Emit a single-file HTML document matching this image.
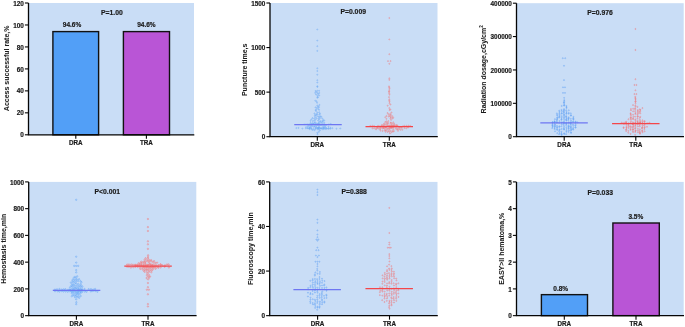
<!DOCTYPE html>
<html><head><meta charset="utf-8"><style>
html,body{margin:0;padding:0;background:#fff;width:685px;height:327px;overflow:hidden}
svg{display:block;font-family:"Liberation Sans", sans-serif}
svg text{filter:grayscale(1)}
</style></head><body>
<svg width="685" height="327" viewBox="0 0 685 327">
<rect width="685" height="327" fill="#fff"/>
<rect x="28.50" y="3.00" width="165.50" height="131.80" fill="#c9ddf6"/>
<rect x="52.90" y="31.60" width="45.70" height="103.20" fill="#529ff7" stroke="#111" stroke-width="1.4"/>
<rect x="123.40" y="31.60" width="46.10" height="103.20" fill="#b955d6" stroke="#111" stroke-width="1.4"/>
<text x="72.00" y="27.18" font-size="6.5" text-anchor="middle" font-weight="bold" fill="#1a1a1a" stroke="#1a1a1a" stroke-width="0.18">94.6%</text>
<text x="146.40" y="27.18" font-size="6.5" text-anchor="middle" font-weight="bold" fill="#1a1a1a" stroke="#1a1a1a" stroke-width="0.18">94.6%</text>
<path d="M28.50 3.00 V134.80 H194.30" fill="none" stroke="#050505" stroke-width="1.3"/>
<line x1="24.90" y1="134.80" x2="28.50" y2="134.80" stroke="#050505" stroke-width="1.1"/>
<text x="23.90" y="137.40" font-size="6.4" text-anchor="end" font-weight="bold" fill="#1a1a1a" stroke="#1a1a1a" stroke-width="0.18">0</text>
<line x1="24.90" y1="112.83" x2="28.50" y2="112.83" stroke="#050505" stroke-width="1.1"/>
<text x="23.90" y="115.43" font-size="6.4" text-anchor="end" font-weight="bold" fill="#1a1a1a" stroke="#1a1a1a" stroke-width="0.18">20</text>
<line x1="24.90" y1="90.87" x2="28.50" y2="90.87" stroke="#050505" stroke-width="1.1"/>
<text x="23.90" y="93.47" font-size="6.4" text-anchor="end" font-weight="bold" fill="#1a1a1a" stroke="#1a1a1a" stroke-width="0.18">40</text>
<line x1="24.90" y1="68.90" x2="28.50" y2="68.90" stroke="#050505" stroke-width="1.1"/>
<text x="23.90" y="71.50" font-size="6.4" text-anchor="end" font-weight="bold" fill="#1a1a1a" stroke="#1a1a1a" stroke-width="0.18">60</text>
<line x1="24.90" y1="46.93" x2="28.50" y2="46.93" stroke="#050505" stroke-width="1.1"/>
<text x="23.90" y="49.53" font-size="6.4" text-anchor="end" font-weight="bold" fill="#1a1a1a" stroke="#1a1a1a" stroke-width="0.18">80</text>
<line x1="24.90" y1="24.97" x2="28.50" y2="24.97" stroke="#050505" stroke-width="1.1"/>
<text x="23.90" y="27.57" font-size="6.4" text-anchor="end" font-weight="bold" fill="#1a1a1a" stroke="#1a1a1a" stroke-width="0.18">100</text>
<line x1="24.90" y1="3.00" x2="28.50" y2="3.00" stroke="#050505" stroke-width="1.1"/>
<text x="23.90" y="5.60" font-size="6.4" text-anchor="end" font-weight="bold" fill="#1a1a1a" stroke="#1a1a1a" stroke-width="0.18">120</text>
<line x1="75.80" y1="134.80" x2="75.80" y2="138.80" stroke="#050505" stroke-width="1.1"/>
<text x="75.80" y="145.20" font-size="6.3" text-anchor="middle" font-weight="bold" fill="#1a1a1a" stroke="#1a1a1a" stroke-width="0.18">DRA</text>
<line x1="146.40" y1="134.80" x2="146.40" y2="138.80" stroke="#050505" stroke-width="1.1"/>
<text x="146.40" y="145.20" font-size="6.3" text-anchor="middle" font-weight="bold" fill="#1a1a1a" stroke="#1a1a1a" stroke-width="0.18">TRA</text>
<text x="9.00" y="68.35" font-size="7.0" text-anchor="middle" font-weight="bold" fill="#1a1a1a" stroke="#1a1a1a" stroke-width="0.05" transform="rotate(-90 9.00 68.35)">Access successful rate,%</text>
<text x="111.90" y="14.90" font-size="6.8" text-anchor="middle" font-weight="bold" fill="#1a1a1a" stroke="#1a1a1a" stroke-width="0.18">P=1.00</text>
<rect x="270.00" y="3.00" width="167.50" height="133.70" fill="#c9ddf6"/>
<circle cx="317.51" cy="134.21" r="0.55" fill="none" stroke="#62a4f4" stroke-width="0.42"/>
<circle cx="317.30" cy="132.76" r="0.55" fill="none" stroke="#62a4f4" stroke-width="0.42"/>
<circle cx="318.92" cy="131.87" r="0.55" fill="none" stroke="#62a4f4" stroke-width="0.42"/>
<circle cx="312.71" cy="130.00" r="0.55" fill="none" stroke="#62a4f4" stroke-width="0.42"/>
<circle cx="314.58" cy="130.18" r="0.55" fill="none" stroke="#62a4f4" stroke-width="0.42"/>
<circle cx="319.87" cy="130.43" r="0.55" fill="none" stroke="#62a4f4" stroke-width="0.42"/>
<circle cx="309.53" cy="129.14" r="0.55" fill="none" stroke="#62a4f4" stroke-width="0.42"/>
<circle cx="311.43" cy="129.15" r="0.55" fill="none" stroke="#62a4f4" stroke-width="0.42"/>
<circle cx="313.34" cy="128.98" r="0.55" fill="none" stroke="#62a4f4" stroke-width="0.42"/>
<circle cx="315.38" cy="129.03" r="0.55" fill="none" stroke="#62a4f4" stroke-width="0.42"/>
<circle cx="317.50" cy="129.25" r="0.55" fill="none" stroke="#62a4f4" stroke-width="0.42"/>
<circle cx="319.01" cy="129.59" r="0.55" fill="none" stroke="#62a4f4" stroke-width="0.42"/>
<circle cx="322.90" cy="129.38" r="0.55" fill="none" stroke="#62a4f4" stroke-width="0.42"/>
<circle cx="325.16" cy="129.14" r="0.55" fill="none" stroke="#62a4f4" stroke-width="0.42"/>
<circle cx="310.53" cy="128.07" r="0.55" fill="none" stroke="#62a4f4" stroke-width="0.42"/>
<circle cx="316.40" cy="127.63" r="0.55" fill="none" stroke="#62a4f4" stroke-width="0.42"/>
<circle cx="318.43" cy="127.93" r="0.55" fill="none" stroke="#62a4f4" stroke-width="0.42"/>
<circle cx="320.18" cy="128.16" r="0.55" fill="none" stroke="#62a4f4" stroke-width="0.42"/>
<circle cx="321.97" cy="127.95" r="0.55" fill="none" stroke="#62a4f4" stroke-width="0.42"/>
<circle cx="324.12" cy="128.02" r="0.55" fill="none" stroke="#62a4f4" stroke-width="0.42"/>
<circle cx="325.84" cy="127.62" r="0.55" fill="none" stroke="#62a4f4" stroke-width="0.42"/>
<circle cx="306.02" cy="127.19" r="0.55" fill="none" stroke="#62a4f4" stroke-width="0.42"/>
<circle cx="307.74" cy="126.54" r="0.55" fill="none" stroke="#62a4f4" stroke-width="0.42"/>
<circle cx="309.99" cy="127.02" r="0.55" fill="none" stroke="#62a4f4" stroke-width="0.42"/>
<circle cx="311.82" cy="126.59" r="0.55" fill="none" stroke="#62a4f4" stroke-width="0.42"/>
<circle cx="313.77" cy="126.86" r="0.55" fill="none" stroke="#62a4f4" stroke-width="0.42"/>
<circle cx="315.26" cy="126.84" r="0.55" fill="none" stroke="#62a4f4" stroke-width="0.42"/>
<circle cx="319.37" cy="127.06" r="0.55" fill="none" stroke="#62a4f4" stroke-width="0.42"/>
<circle cx="323.19" cy="126.81" r="0.55" fill="none" stroke="#62a4f4" stroke-width="0.42"/>
<circle cx="324.86" cy="126.44" r="0.55" fill="none" stroke="#62a4f4" stroke-width="0.42"/>
<circle cx="328.52" cy="126.80" r="0.55" fill="none" stroke="#62a4f4" stroke-width="0.42"/>
<circle cx="308.66" cy="125.48" r="0.55" fill="none" stroke="#62a4f4" stroke-width="0.42"/>
<circle cx="310.72" cy="125.69" r="0.55" fill="none" stroke="#62a4f4" stroke-width="0.42"/>
<circle cx="312.27" cy="125.38" r="0.55" fill="none" stroke="#62a4f4" stroke-width="0.42"/>
<circle cx="314.50" cy="125.89" r="0.55" fill="none" stroke="#62a4f4" stroke-width="0.42"/>
<circle cx="316.53" cy="125.85" r="0.55" fill="none" stroke="#62a4f4" stroke-width="0.42"/>
<circle cx="318.46" cy="125.74" r="0.55" fill="none" stroke="#62a4f4" stroke-width="0.42"/>
<circle cx="319.86" cy="125.21" r="0.55" fill="none" stroke="#62a4f4" stroke-width="0.42"/>
<circle cx="321.90" cy="125.29" r="0.55" fill="none" stroke="#62a4f4" stroke-width="0.42"/>
<circle cx="323.86" cy="125.26" r="0.55" fill="none" stroke="#62a4f4" stroke-width="0.42"/>
<circle cx="325.87" cy="125.33" r="0.55" fill="none" stroke="#62a4f4" stroke-width="0.42"/>
<circle cx="309.83" cy="124.36" r="0.55" fill="none" stroke="#62a4f4" stroke-width="0.42"/>
<circle cx="311.58" cy="124.02" r="0.55" fill="none" stroke="#62a4f4" stroke-width="0.42"/>
<circle cx="313.45" cy="124.15" r="0.55" fill="none" stroke="#62a4f4" stroke-width="0.42"/>
<circle cx="315.64" cy="124.41" r="0.55" fill="none" stroke="#62a4f4" stroke-width="0.42"/>
<circle cx="317.36" cy="124.65" r="0.55" fill="none" stroke="#62a4f4" stroke-width="0.42"/>
<circle cx="318.91" cy="124.12" r="0.55" fill="none" stroke="#62a4f4" stroke-width="0.42"/>
<circle cx="320.90" cy="124.56" r="0.55" fill="none" stroke="#62a4f4" stroke-width="0.42"/>
<circle cx="323.03" cy="124.18" r="0.55" fill="none" stroke="#62a4f4" stroke-width="0.42"/>
<circle cx="310.66" cy="122.98" r="0.55" fill="none" stroke="#62a4f4" stroke-width="0.42"/>
<circle cx="312.49" cy="123.26" r="0.55" fill="none" stroke="#62a4f4" stroke-width="0.42"/>
<circle cx="314.53" cy="122.85" r="0.55" fill="none" stroke="#62a4f4" stroke-width="0.42"/>
<circle cx="316.63" cy="123.50" r="0.55" fill="none" stroke="#62a4f4" stroke-width="0.42"/>
<circle cx="318.47" cy="123.05" r="0.55" fill="none" stroke="#62a4f4" stroke-width="0.42"/>
<circle cx="322.00" cy="123.00" r="0.55" fill="none" stroke="#62a4f4" stroke-width="0.42"/>
<circle cx="324.18" cy="122.83" r="0.55" fill="none" stroke="#62a4f4" stroke-width="0.42"/>
<circle cx="315.20" cy="122.29" r="0.55" fill="none" stroke="#62a4f4" stroke-width="0.42"/>
<circle cx="319.21" cy="121.90" r="0.55" fill="none" stroke="#62a4f4" stroke-width="0.42"/>
<circle cx="320.92" cy="122.14" r="0.55" fill="none" stroke="#62a4f4" stroke-width="0.42"/>
<circle cx="322.82" cy="121.68" r="0.55" fill="none" stroke="#62a4f4" stroke-width="0.42"/>
<circle cx="310.53" cy="120.80" r="0.55" fill="none" stroke="#62a4f4" stroke-width="0.42"/>
<circle cx="312.77" cy="121.12" r="0.55" fill="none" stroke="#62a4f4" stroke-width="0.42"/>
<circle cx="314.27" cy="120.66" r="0.55" fill="none" stroke="#62a4f4" stroke-width="0.42"/>
<circle cx="318.15" cy="120.57" r="0.55" fill="none" stroke="#62a4f4" stroke-width="0.42"/>
<circle cx="320.35" cy="121.15" r="0.55" fill="none" stroke="#62a4f4" stroke-width="0.42"/>
<circle cx="322.28" cy="120.95" r="0.55" fill="none" stroke="#62a4f4" stroke-width="0.42"/>
<circle cx="324.24" cy="120.59" r="0.55" fill="none" stroke="#62a4f4" stroke-width="0.42"/>
<circle cx="311.35" cy="119.34" r="0.55" fill="none" stroke="#62a4f4" stroke-width="0.42"/>
<circle cx="315.56" cy="119.68" r="0.55" fill="none" stroke="#62a4f4" stroke-width="0.42"/>
<circle cx="319.10" cy="119.43" r="0.55" fill="none" stroke="#62a4f4" stroke-width="0.42"/>
<circle cx="323.27" cy="119.91" r="0.55" fill="none" stroke="#62a4f4" stroke-width="0.42"/>
<circle cx="312.58" cy="118.08" r="0.55" fill="none" stroke="#62a4f4" stroke-width="0.42"/>
<circle cx="314.19" cy="118.69" r="0.55" fill="none" stroke="#62a4f4" stroke-width="0.42"/>
<circle cx="316.55" cy="118.27" r="0.55" fill="none" stroke="#62a4f4" stroke-width="0.42"/>
<circle cx="318.42" cy="118.30" r="0.55" fill="none" stroke="#62a4f4" stroke-width="0.42"/>
<circle cx="319.98" cy="118.07" r="0.55" fill="none" stroke="#62a4f4" stroke-width="0.42"/>
<circle cx="322.28" cy="118.45" r="0.55" fill="none" stroke="#62a4f4" stroke-width="0.42"/>
<circle cx="315.27" cy="117.43" r="0.55" fill="none" stroke="#62a4f4" stroke-width="0.42"/>
<circle cx="319.30" cy="116.87" r="0.55" fill="none" stroke="#62a4f4" stroke-width="0.42"/>
<circle cx="321.33" cy="116.83" r="0.55" fill="none" stroke="#62a4f4" stroke-width="0.42"/>
<circle cx="314.74" cy="115.94" r="0.55" fill="none" stroke="#62a4f4" stroke-width="0.42"/>
<circle cx="316.15" cy="115.79" r="0.55" fill="none" stroke="#62a4f4" stroke-width="0.42"/>
<circle cx="318.01" cy="116.33" r="0.55" fill="none" stroke="#62a4f4" stroke-width="0.42"/>
<circle cx="320.43" cy="116.33" r="0.55" fill="none" stroke="#62a4f4" stroke-width="0.42"/>
<circle cx="315.25" cy="114.78" r="0.55" fill="none" stroke="#62a4f4" stroke-width="0.42"/>
<circle cx="317.39" cy="114.43" r="0.55" fill="none" stroke="#62a4f4" stroke-width="0.42"/>
<circle cx="319.49" cy="114.64" r="0.55" fill="none" stroke="#62a4f4" stroke-width="0.42"/>
<circle cx="314.42" cy="113.45" r="0.55" fill="none" stroke="#62a4f4" stroke-width="0.42"/>
<circle cx="316.60" cy="113.98" r="0.55" fill="none" stroke="#62a4f4" stroke-width="0.42"/>
<circle cx="319.98" cy="113.69" r="0.55" fill="none" stroke="#62a4f4" stroke-width="0.42"/>
<circle cx="317.41" cy="112.53" r="0.55" fill="none" stroke="#62a4f4" stroke-width="0.42"/>
<circle cx="319.22" cy="112.25" r="0.55" fill="none" stroke="#62a4f4" stroke-width="0.42"/>
<circle cx="316.10" cy="111.02" r="0.55" fill="none" stroke="#62a4f4" stroke-width="0.42"/>
<circle cx="315.49" cy="110.11" r="0.55" fill="none" stroke="#62a4f4" stroke-width="0.42"/>
<circle cx="319.08" cy="109.86" r="0.55" fill="none" stroke="#62a4f4" stroke-width="0.42"/>
<circle cx="316.56" cy="109.11" r="0.55" fill="none" stroke="#62a4f4" stroke-width="0.42"/>
<circle cx="318.15" cy="108.84" r="0.55" fill="none" stroke="#62a4f4" stroke-width="0.42"/>
<circle cx="315.46" cy="107.40" r="0.55" fill="none" stroke="#62a4f4" stroke-width="0.42"/>
<circle cx="317.15" cy="107.26" r="0.55" fill="none" stroke="#62a4f4" stroke-width="0.42"/>
<circle cx="318.94" cy="107.26" r="0.55" fill="none" stroke="#62a4f4" stroke-width="0.42"/>
<circle cx="318.43" cy="106.39" r="0.55" fill="none" stroke="#62a4f4" stroke-width="0.42"/>
<circle cx="317.30" cy="105.44" r="0.55" fill="none" stroke="#62a4f4" stroke-width="0.42"/>
<circle cx="319.47" cy="104.94" r="0.55" fill="none" stroke="#62a4f4" stroke-width="0.42"/>
<circle cx="317.06" cy="102.81" r="0.55" fill="none" stroke="#62a4f4" stroke-width="0.42"/>
<circle cx="316.59" cy="101.31" r="0.55" fill="none" stroke="#62a4f4" stroke-width="0.42"/>
<circle cx="315.29" cy="100.72" r="0.55" fill="none" stroke="#62a4f4" stroke-width="0.42"/>
<circle cx="317.26" cy="97.73" r="0.55" fill="none" stroke="#62a4f4" stroke-width="0.42"/>
<circle cx="317.99" cy="97.17" r="0.55" fill="none" stroke="#62a4f4" stroke-width="0.42"/>
<circle cx="317.32" cy="95.88" r="0.55" fill="none" stroke="#62a4f4" stroke-width="0.42"/>
<circle cx="319.14" cy="95.47" r="0.55" fill="none" stroke="#62a4f4" stroke-width="0.42"/>
<circle cx="316.06" cy="94.52" r="0.55" fill="none" stroke="#62a4f4" stroke-width="0.42"/>
<circle cx="318.29" cy="94.05" r="0.55" fill="none" stroke="#62a4f4" stroke-width="0.42"/>
<circle cx="315.18" cy="92.90" r="0.55" fill="none" stroke="#62a4f4" stroke-width="0.42"/>
<circle cx="317.50" cy="93.12" r="0.55" fill="none" stroke="#62a4f4" stroke-width="0.42"/>
<circle cx="319.27" cy="92.99" r="0.55" fill="none" stroke="#62a4f4" stroke-width="0.42"/>
<circle cx="316.37" cy="92.00" r="0.55" fill="none" stroke="#62a4f4" stroke-width="0.42"/>
<circle cx="315.51" cy="90.99" r="0.55" fill="none" stroke="#62a4f4" stroke-width="0.42"/>
<circle cx="317.30" cy="90.78" r="0.55" fill="none" stroke="#62a4f4" stroke-width="0.42"/>
<circle cx="319.15" cy="90.85" r="0.55" fill="none" stroke="#62a4f4" stroke-width="0.42"/>
<circle cx="317.39" cy="86.84" r="0.55" fill="none" stroke="#62a4f4" stroke-width="0.42"/>
<circle cx="317.31" cy="86.30" r="0.55" fill="none" stroke="#62a4f4" stroke-width="0.42"/>
<circle cx="304.16" cy="124.38" r="0.55" fill="none" stroke="#62a4f4" stroke-width="0.42"/>
<circle cx="306.02" cy="124.35" r="0.55" fill="none" stroke="#62a4f4" stroke-width="0.42"/>
<circle cx="307.92" cy="124.24" r="0.55" fill="none" stroke="#62a4f4" stroke-width="0.42"/>
<circle cx="309.91" cy="124.40" r="0.55" fill="none" stroke="#62a4f4" stroke-width="0.42"/>
<circle cx="313.31" cy="123.75" r="0.55" fill="none" stroke="#62a4f4" stroke-width="0.42"/>
<circle cx="315.44" cy="124.26" r="0.55" fill="none" stroke="#62a4f4" stroke-width="0.42"/>
<circle cx="317.41" cy="124.22" r="0.55" fill="none" stroke="#62a4f4" stroke-width="0.42"/>
<circle cx="319.21" cy="123.66" r="0.55" fill="none" stroke="#62a4f4" stroke-width="0.42"/>
<circle cx="320.82" cy="124.48" r="0.55" fill="none" stroke="#62a4f4" stroke-width="0.42"/>
<circle cx="324.76" cy="124.41" r="0.55" fill="none" stroke="#62a4f4" stroke-width="0.42"/>
<circle cx="328.87" cy="124.34" r="0.55" fill="none" stroke="#62a4f4" stroke-width="0.42"/>
<circle cx="330.72" cy="123.95" r="0.55" fill="none" stroke="#62a4f4" stroke-width="0.42"/>
<circle cx="307.98" cy="128.23" r="0.55" fill="none" stroke="#62a4f4" stroke-width="0.42"/>
<circle cx="309.60" cy="127.93" r="0.55" fill="none" stroke="#62a4f4" stroke-width="0.42"/>
<circle cx="315.46" cy="128.21" r="0.55" fill="none" stroke="#62a4f4" stroke-width="0.42"/>
<circle cx="317.18" cy="128.05" r="0.55" fill="none" stroke="#62a4f4" stroke-width="0.42"/>
<circle cx="318.90" cy="127.99" r="0.55" fill="none" stroke="#62a4f4" stroke-width="0.42"/>
<circle cx="320.81" cy="128.43" r="0.55" fill="none" stroke="#62a4f4" stroke-width="0.42"/>
<circle cx="323.20" cy="128.01" r="0.55" fill="none" stroke="#62a4f4" stroke-width="0.42"/>
<circle cx="324.93" cy="128.07" r="0.55" fill="none" stroke="#62a4f4" stroke-width="0.42"/>
<circle cx="326.65" cy="128.48" r="0.55" fill="none" stroke="#62a4f4" stroke-width="0.42"/>
<circle cx="328.89" cy="128.77" r="0.55" fill="none" stroke="#62a4f4" stroke-width="0.42"/>
<circle cx="330.59" cy="128.66" r="0.55" fill="none" stroke="#62a4f4" stroke-width="0.42"/>
<circle cx="296.33" cy="128.08" r="0.55" fill="none" stroke="#62a4f4" stroke-width="0.42"/>
<circle cx="298.48" cy="127.92" r="0.55" fill="none" stroke="#62a4f4" stroke-width="0.42"/>
<circle cx="302.38" cy="128.56" r="0.55" fill="none" stroke="#62a4f4" stroke-width="0.42"/>
<circle cx="305.90" cy="128.37" r="0.55" fill="none" stroke="#62a4f4" stroke-width="0.42"/>
<circle cx="307.80" cy="128.16" r="0.55" fill="none" stroke="#62a4f4" stroke-width="0.42"/>
<circle cx="309.40" cy="128.24" r="0.55" fill="none" stroke="#62a4f4" stroke-width="0.42"/>
<circle cx="311.48" cy="128.20" r="0.55" fill="none" stroke="#62a4f4" stroke-width="0.42"/>
<circle cx="317.39" cy="128.18" r="0.55" fill="none" stroke="#62a4f4" stroke-width="0.42"/>
<circle cx="318.90" cy="128.08" r="0.55" fill="none" stroke="#62a4f4" stroke-width="0.42"/>
<circle cx="321.33" cy="128.63" r="0.55" fill="none" stroke="#62a4f4" stroke-width="0.42"/>
<circle cx="323.29" cy="128.26" r="0.55" fill="none" stroke="#62a4f4" stroke-width="0.42"/>
<circle cx="326.95" cy="128.79" r="0.55" fill="none" stroke="#62a4f4" stroke-width="0.42"/>
<circle cx="328.50" cy="128.42" r="0.55" fill="none" stroke="#62a4f4" stroke-width="0.42"/>
<circle cx="330.52" cy="127.80" r="0.55" fill="none" stroke="#62a4f4" stroke-width="0.42"/>
<circle cx="332.46" cy="128.21" r="0.55" fill="none" stroke="#62a4f4" stroke-width="0.42"/>
<circle cx="336.44" cy="128.70" r="0.55" fill="none" stroke="#62a4f4" stroke-width="0.42"/>
<circle cx="340.25" cy="128.44" r="0.55" fill="none" stroke="#62a4f4" stroke-width="0.42"/>
<circle cx="317.30" cy="29.50" r="0.55" fill="none" stroke="#62a4f4" stroke-width="0.42"/>
<circle cx="317.30" cy="40.60" r="0.55" fill="none" stroke="#62a4f4" stroke-width="0.42"/>
<circle cx="317.30" cy="46.20" r="0.55" fill="none" stroke="#62a4f4" stroke-width="0.42"/>
<circle cx="317.30" cy="50.90" r="0.55" fill="none" stroke="#62a4f4" stroke-width="0.42"/>
<circle cx="317.30" cy="68.30" r="0.55" fill="none" stroke="#62a4f4" stroke-width="0.42"/>
<circle cx="317.30" cy="71.00" r="0.55" fill="none" stroke="#62a4f4" stroke-width="0.42"/>
<circle cx="317.30" cy="74.70" r="0.55" fill="none" stroke="#62a4f4" stroke-width="0.42"/>
<circle cx="317.30" cy="80.20" r="0.55" fill="none" stroke="#62a4f4" stroke-width="0.42"/>
<circle cx="317.30" cy="82.60" r="0.55" fill="none" stroke="#62a4f4" stroke-width="0.42"/>
<circle cx="390.00" cy="133.37" r="0.55" fill="none" stroke="#f47272" stroke-width="0.42"/>
<circle cx="385.60" cy="131.75" r="0.55" fill="none" stroke="#f47272" stroke-width="0.42"/>
<circle cx="387.46" cy="131.96" r="0.55" fill="none" stroke="#f47272" stroke-width="0.42"/>
<circle cx="389.26" cy="131.81" r="0.55" fill="none" stroke="#f47272" stroke-width="0.42"/>
<circle cx="391.50" cy="132.26" r="0.55" fill="none" stroke="#f47272" stroke-width="0.42"/>
<circle cx="393.07" cy="131.71" r="0.55" fill="none" stroke="#f47272" stroke-width="0.42"/>
<circle cx="380.47" cy="130.67" r="0.55" fill="none" stroke="#f47272" stroke-width="0.42"/>
<circle cx="382.58" cy="131.01" r="0.55" fill="none" stroke="#f47272" stroke-width="0.42"/>
<circle cx="384.59" cy="130.49" r="0.55" fill="none" stroke="#f47272" stroke-width="0.42"/>
<circle cx="386.35" cy="130.41" r="0.55" fill="none" stroke="#f47272" stroke-width="0.42"/>
<circle cx="388.65" cy="130.84" r="0.55" fill="none" stroke="#f47272" stroke-width="0.42"/>
<circle cx="390.49" cy="130.94" r="0.55" fill="none" stroke="#f47272" stroke-width="0.42"/>
<circle cx="392.39" cy="130.91" r="0.55" fill="none" stroke="#f47272" stroke-width="0.42"/>
<circle cx="393.96" cy="131.08" r="0.55" fill="none" stroke="#f47272" stroke-width="0.42"/>
<circle cx="398.00" cy="130.87" r="0.55" fill="none" stroke="#f47272" stroke-width="0.42"/>
<circle cx="376.02" cy="129.49" r="0.55" fill="none" stroke="#f47272" stroke-width="0.42"/>
<circle cx="380.00" cy="129.38" r="0.55" fill="none" stroke="#f47272" stroke-width="0.42"/>
<circle cx="385.54" cy="129.84" r="0.55" fill="none" stroke="#f47272" stroke-width="0.42"/>
<circle cx="387.39" cy="129.28" r="0.55" fill="none" stroke="#f47272" stroke-width="0.42"/>
<circle cx="389.42" cy="129.23" r="0.55" fill="none" stroke="#f47272" stroke-width="0.42"/>
<circle cx="393.35" cy="129.35" r="0.55" fill="none" stroke="#f47272" stroke-width="0.42"/>
<circle cx="396.90" cy="129.51" r="0.55" fill="none" stroke="#f47272" stroke-width="0.42"/>
<circle cx="398.85" cy="129.35" r="0.55" fill="none" stroke="#f47272" stroke-width="0.42"/>
<circle cx="400.71" cy="129.85" r="0.55" fill="none" stroke="#f47272" stroke-width="0.42"/>
<circle cx="402.35" cy="129.76" r="0.55" fill="none" stroke="#f47272" stroke-width="0.42"/>
<circle cx="377.19" cy="128.05" r="0.55" fill="none" stroke="#f47272" stroke-width="0.42"/>
<circle cx="378.59" cy="128.42" r="0.55" fill="none" stroke="#f47272" stroke-width="0.42"/>
<circle cx="380.59" cy="128.60" r="0.55" fill="none" stroke="#f47272" stroke-width="0.42"/>
<circle cx="382.66" cy="128.58" r="0.55" fill="none" stroke="#f47272" stroke-width="0.42"/>
<circle cx="384.38" cy="128.60" r="0.55" fill="none" stroke="#f47272" stroke-width="0.42"/>
<circle cx="386.58" cy="127.93" r="0.55" fill="none" stroke="#f47272" stroke-width="0.42"/>
<circle cx="388.15" cy="128.44" r="0.55" fill="none" stroke="#f47272" stroke-width="0.42"/>
<circle cx="390.52" cy="127.92" r="0.55" fill="none" stroke="#f47272" stroke-width="0.42"/>
<circle cx="391.86" cy="128.10" r="0.55" fill="none" stroke="#f47272" stroke-width="0.42"/>
<circle cx="395.76" cy="128.45" r="0.55" fill="none" stroke="#f47272" stroke-width="0.42"/>
<circle cx="397.58" cy="128.69" r="0.55" fill="none" stroke="#f47272" stroke-width="0.42"/>
<circle cx="399.47" cy="128.18" r="0.55" fill="none" stroke="#f47272" stroke-width="0.42"/>
<circle cx="401.80" cy="127.99" r="0.55" fill="none" stroke="#f47272" stroke-width="0.42"/>
<circle cx="377.62" cy="127.06" r="0.55" fill="none" stroke="#f47272" stroke-width="0.42"/>
<circle cx="379.94" cy="127.42" r="0.55" fill="none" stroke="#f47272" stroke-width="0.42"/>
<circle cx="381.92" cy="127.26" r="0.55" fill="none" stroke="#f47272" stroke-width="0.42"/>
<circle cx="383.44" cy="127.23" r="0.55" fill="none" stroke="#f47272" stroke-width="0.42"/>
<circle cx="385.26" cy="127.06" r="0.55" fill="none" stroke="#f47272" stroke-width="0.42"/>
<circle cx="389.35" cy="127.01" r="0.55" fill="none" stroke="#f47272" stroke-width="0.42"/>
<circle cx="390.99" cy="127.47" r="0.55" fill="none" stroke="#f47272" stroke-width="0.42"/>
<circle cx="393.16" cy="127.04" r="0.55" fill="none" stroke="#f47272" stroke-width="0.42"/>
<circle cx="395.03" cy="126.81" r="0.55" fill="none" stroke="#f47272" stroke-width="0.42"/>
<circle cx="396.62" cy="126.83" r="0.55" fill="none" stroke="#f47272" stroke-width="0.42"/>
<circle cx="398.88" cy="127.11" r="0.55" fill="none" stroke="#f47272" stroke-width="0.42"/>
<circle cx="384.52" cy="125.70" r="0.55" fill="none" stroke="#f47272" stroke-width="0.42"/>
<circle cx="386.52" cy="126.14" r="0.55" fill="none" stroke="#f47272" stroke-width="0.42"/>
<circle cx="388.20" cy="125.84" r="0.55" fill="none" stroke="#f47272" stroke-width="0.42"/>
<circle cx="389.95" cy="125.53" r="0.55" fill="none" stroke="#f47272" stroke-width="0.42"/>
<circle cx="391.92" cy="126.08" r="0.55" fill="none" stroke="#f47272" stroke-width="0.42"/>
<circle cx="393.81" cy="125.65" r="0.55" fill="none" stroke="#f47272" stroke-width="0.42"/>
<circle cx="395.78" cy="125.92" r="0.55" fill="none" stroke="#f47272" stroke-width="0.42"/>
<circle cx="397.74" cy="126.01" r="0.55" fill="none" stroke="#f47272" stroke-width="0.42"/>
<circle cx="381.94" cy="125.07" r="0.55" fill="none" stroke="#f47272" stroke-width="0.42"/>
<circle cx="383.56" cy="124.71" r="0.55" fill="none" stroke="#f47272" stroke-width="0.42"/>
<circle cx="385.23" cy="124.63" r="0.55" fill="none" stroke="#f47272" stroke-width="0.42"/>
<circle cx="387.21" cy="124.38" r="0.55" fill="none" stroke="#f47272" stroke-width="0.42"/>
<circle cx="391.21" cy="125.04" r="0.55" fill="none" stroke="#f47272" stroke-width="0.42"/>
<circle cx="392.97" cy="125.09" r="0.55" fill="none" stroke="#f47272" stroke-width="0.42"/>
<circle cx="394.71" cy="124.85" r="0.55" fill="none" stroke="#f47272" stroke-width="0.42"/>
<circle cx="396.78" cy="124.97" r="0.55" fill="none" stroke="#f47272" stroke-width="0.42"/>
<circle cx="384.26" cy="123.46" r="0.55" fill="none" stroke="#f47272" stroke-width="0.42"/>
<circle cx="386.44" cy="123.27" r="0.55" fill="none" stroke="#f47272" stroke-width="0.42"/>
<circle cx="388.09" cy="123.33" r="0.55" fill="none" stroke="#f47272" stroke-width="0.42"/>
<circle cx="390.51" cy="123.16" r="0.55" fill="none" stroke="#f47272" stroke-width="0.42"/>
<circle cx="391.97" cy="123.56" r="0.55" fill="none" stroke="#f47272" stroke-width="0.42"/>
<circle cx="394.03" cy="123.70" r="0.55" fill="none" stroke="#f47272" stroke-width="0.42"/>
<circle cx="385.27" cy="122.00" r="0.55" fill="none" stroke="#f47272" stroke-width="0.42"/>
<circle cx="387.61" cy="122.41" r="0.55" fill="none" stroke="#f47272" stroke-width="0.42"/>
<circle cx="390.91" cy="122.43" r="0.55" fill="none" stroke="#f47272" stroke-width="0.42"/>
<circle cx="393.23" cy="122.30" r="0.55" fill="none" stroke="#f47272" stroke-width="0.42"/>
<circle cx="386.42" cy="121.34" r="0.55" fill="none" stroke="#f47272" stroke-width="0.42"/>
<circle cx="388.37" cy="121.08" r="0.55" fill="none" stroke="#f47272" stroke-width="0.42"/>
<circle cx="391.04" cy="119.89" r="0.55" fill="none" stroke="#f47272" stroke-width="0.42"/>
<circle cx="386.41" cy="118.84" r="0.55" fill="none" stroke="#f47272" stroke-width="0.42"/>
<circle cx="390.44" cy="118.38" r="0.55" fill="none" stroke="#f47272" stroke-width="0.42"/>
<circle cx="392.45" cy="118.42" r="0.55" fill="none" stroke="#f47272" stroke-width="0.42"/>
<circle cx="385.24" cy="117.17" r="0.55" fill="none" stroke="#f47272" stroke-width="0.42"/>
<circle cx="390.98" cy="117.34" r="0.55" fill="none" stroke="#f47272" stroke-width="0.42"/>
<circle cx="393.20" cy="117.64" r="0.55" fill="none" stroke="#f47272" stroke-width="0.42"/>
<circle cx="386.46" cy="115.99" r="0.55" fill="none" stroke="#f47272" stroke-width="0.42"/>
<circle cx="388.62" cy="116.50" r="0.55" fill="none" stroke="#f47272" stroke-width="0.42"/>
<circle cx="390.26" cy="116.47" r="0.55" fill="none" stroke="#f47272" stroke-width="0.42"/>
<circle cx="392.39" cy="116.27" r="0.55" fill="none" stroke="#f47272" stroke-width="0.42"/>
<circle cx="389.60" cy="115.33" r="0.55" fill="none" stroke="#f47272" stroke-width="0.42"/>
<circle cx="390.99" cy="115.05" r="0.55" fill="none" stroke="#f47272" stroke-width="0.42"/>
<circle cx="388.41" cy="114.21" r="0.55" fill="none" stroke="#f47272" stroke-width="0.42"/>
<circle cx="390.26" cy="113.89" r="0.55" fill="none" stroke="#f47272" stroke-width="0.42"/>
<circle cx="387.53" cy="113.05" r="0.55" fill="none" stroke="#f47272" stroke-width="0.42"/>
<circle cx="391.48" cy="112.56" r="0.55" fill="none" stroke="#f47272" stroke-width="0.42"/>
<circle cx="389.51" cy="110.08" r="0.55" fill="none" stroke="#f47272" stroke-width="0.42"/>
<circle cx="390.35" cy="109.48" r="0.55" fill="none" stroke="#f47272" stroke-width="0.42"/>
<circle cx="389.28" cy="108.07" r="0.55" fill="none" stroke="#f47272" stroke-width="0.42"/>
<circle cx="387.67" cy="105.68" r="0.55" fill="none" stroke="#f47272" stroke-width="0.42"/>
<circle cx="390.44" cy="104.51" r="0.55" fill="none" stroke="#f47272" stroke-width="0.42"/>
<circle cx="389.45" cy="103.17" r="0.55" fill="none" stroke="#f47272" stroke-width="0.42"/>
<circle cx="389.48" cy="101.61" r="0.55" fill="none" stroke="#f47272" stroke-width="0.42"/>
<circle cx="389.26" cy="100.50" r="0.55" fill="none" stroke="#f47272" stroke-width="0.42"/>
<circle cx="389.28" cy="99.26" r="0.55" fill="none" stroke="#f47272" stroke-width="0.42"/>
<circle cx="389.00" cy="97.09" r="0.55" fill="none" stroke="#f47272" stroke-width="0.42"/>
<circle cx="389.45" cy="94.69" r="0.55" fill="none" stroke="#f47272" stroke-width="0.42"/>
<circle cx="389.20" cy="93.31" r="0.55" fill="none" stroke="#f47272" stroke-width="0.42"/>
<circle cx="389.02" cy="91.96" r="0.55" fill="none" stroke="#f47272" stroke-width="0.42"/>
<circle cx="389.10" cy="91.30" r="0.55" fill="none" stroke="#f47272" stroke-width="0.42"/>
<circle cx="389.24" cy="90.04" r="0.55" fill="none" stroke="#f47272" stroke-width="0.42"/>
<circle cx="389.52" cy="88.41" r="0.55" fill="none" stroke="#f47272" stroke-width="0.42"/>
<circle cx="389.23" cy="87.47" r="0.55" fill="none" stroke="#f47272" stroke-width="0.42"/>
<circle cx="389.01" cy="86.35" r="0.55" fill="none" stroke="#f47272" stroke-width="0.42"/>
<circle cx="370.32" cy="125.88" r="0.55" fill="none" stroke="#f47272" stroke-width="0.42"/>
<circle cx="372.42" cy="125.81" r="0.55" fill="none" stroke="#f47272" stroke-width="0.42"/>
<circle cx="374.09" cy="126.04" r="0.55" fill="none" stroke="#f47272" stroke-width="0.42"/>
<circle cx="378.09" cy="125.80" r="0.55" fill="none" stroke="#f47272" stroke-width="0.42"/>
<circle cx="379.98" cy="126.15" r="0.55" fill="none" stroke="#f47272" stroke-width="0.42"/>
<circle cx="381.90" cy="125.59" r="0.55" fill="none" stroke="#f47272" stroke-width="0.42"/>
<circle cx="383.53" cy="126.03" r="0.55" fill="none" stroke="#f47272" stroke-width="0.42"/>
<circle cx="387.48" cy="125.81" r="0.55" fill="none" stroke="#f47272" stroke-width="0.42"/>
<circle cx="389.27" cy="125.73" r="0.55" fill="none" stroke="#f47272" stroke-width="0.42"/>
<circle cx="391.47" cy="125.61" r="0.55" fill="none" stroke="#f47272" stroke-width="0.42"/>
<circle cx="393.03" cy="125.86" r="0.55" fill="none" stroke="#f47272" stroke-width="0.42"/>
<circle cx="394.75" cy="125.96" r="0.55" fill="none" stroke="#f47272" stroke-width="0.42"/>
<circle cx="396.87" cy="125.79" r="0.55" fill="none" stroke="#f47272" stroke-width="0.42"/>
<circle cx="402.68" cy="126.43" r="0.55" fill="none" stroke="#f47272" stroke-width="0.42"/>
<circle cx="404.26" cy="125.74" r="0.55" fill="none" stroke="#f47272" stroke-width="0.42"/>
<circle cx="406.51" cy="125.87" r="0.55" fill="none" stroke="#f47272" stroke-width="0.42"/>
<circle cx="408.48" cy="125.73" r="0.55" fill="none" stroke="#f47272" stroke-width="0.42"/>
<circle cx="410.28" cy="125.90" r="0.55" fill="none" stroke="#f47272" stroke-width="0.42"/>
<circle cx="372.43" cy="128.33" r="0.55" fill="none" stroke="#f47272" stroke-width="0.42"/>
<circle cx="374.21" cy="128.35" r="0.55" fill="none" stroke="#f47272" stroke-width="0.42"/>
<circle cx="376.15" cy="128.27" r="0.55" fill="none" stroke="#f47272" stroke-width="0.42"/>
<circle cx="383.67" cy="128.07" r="0.55" fill="none" stroke="#f47272" stroke-width="0.42"/>
<circle cx="385.44" cy="127.57" r="0.55" fill="none" stroke="#f47272" stroke-width="0.42"/>
<circle cx="389.29" cy="128.29" r="0.55" fill="none" stroke="#f47272" stroke-width="0.42"/>
<circle cx="391.48" cy="127.53" r="0.55" fill="none" stroke="#f47272" stroke-width="0.42"/>
<circle cx="393.01" cy="127.76" r="0.55" fill="none" stroke="#f47272" stroke-width="0.42"/>
<circle cx="400.73" cy="127.64" r="0.55" fill="none" stroke="#f47272" stroke-width="0.42"/>
<circle cx="404.37" cy="128.04" r="0.55" fill="none" stroke="#f47272" stroke-width="0.42"/>
<circle cx="406.29" cy="128.33" r="0.55" fill="none" stroke="#f47272" stroke-width="0.42"/>
<circle cx="408.09" cy="127.60" r="0.55" fill="none" stroke="#f47272" stroke-width="0.42"/>
<circle cx="389.30" cy="18.00" r="0.55" fill="none" stroke="#f47272" stroke-width="0.42"/>
<circle cx="389.30" cy="39.40" r="0.55" fill="none" stroke="#f47272" stroke-width="0.42"/>
<circle cx="389.30" cy="54.20" r="0.55" fill="none" stroke="#f47272" stroke-width="0.42"/>
<circle cx="389.30" cy="63.80" r="0.55" fill="none" stroke="#f47272" stroke-width="0.42"/>
<circle cx="389.30" cy="78.30" r="0.55" fill="none" stroke="#f47272" stroke-width="0.42"/>
<circle cx="389.30" cy="79.90" r="0.55" fill="none" stroke="#f47272" stroke-width="0.42"/>
<circle cx="388.00" cy="61.10" r="0.55" fill="none" stroke="#f47272" stroke-width="0.42"/>
<circle cx="390.60" cy="61.10" r="0.55" fill="none" stroke="#f47272" stroke-width="0.42"/>
<line x1="294.25" y1="124.50" x2="341.75" y2="124.50" stroke="#6e76f2" stroke-width="1.25"/>
<line x1="365.50" y1="126.50" x2="413.00" y2="126.50" stroke="#f4464a" stroke-width="1.25"/>
<path d="M270.00 3.00 V136.70 H437.80" fill="none" stroke="#050505" stroke-width="1.3"/>
<line x1="266.40" y1="136.70" x2="270.00" y2="136.70" stroke="#050505" stroke-width="1.1"/>
<text x="265.40" y="139.30" font-size="6.4" text-anchor="end" font-weight="bold" fill="#1a1a1a" stroke="#1a1a1a" stroke-width="0.18">0</text>
<line x1="266.40" y1="92.13" x2="270.00" y2="92.13" stroke="#050505" stroke-width="1.1"/>
<text x="265.40" y="94.73" font-size="6.4" text-anchor="end" font-weight="bold" fill="#1a1a1a" stroke="#1a1a1a" stroke-width="0.18">500</text>
<line x1="266.40" y1="47.57" x2="270.00" y2="47.57" stroke="#050505" stroke-width="1.1"/>
<text x="265.40" y="50.17" font-size="6.4" text-anchor="end" font-weight="bold" fill="#1a1a1a" stroke="#1a1a1a" stroke-width="0.18">1000</text>
<line x1="266.40" y1="3.00" x2="270.00" y2="3.00" stroke="#050505" stroke-width="1.1"/>
<text x="265.40" y="5.60" font-size="6.4" text-anchor="end" font-weight="bold" fill="#1a1a1a" stroke="#1a1a1a" stroke-width="0.18">1500</text>
<line x1="317.30" y1="136.70" x2="317.30" y2="140.70" stroke="#050505" stroke-width="1.1"/>
<text x="317.30" y="147.10" font-size="6.3" text-anchor="middle" font-weight="bold" fill="#1a1a1a" stroke="#1a1a1a" stroke-width="0.18">DRA</text>
<line x1="389.30" y1="136.70" x2="389.30" y2="140.70" stroke="#050505" stroke-width="1.1"/>
<text x="389.30" y="147.10" font-size="6.3" text-anchor="middle" font-weight="bold" fill="#1a1a1a" stroke="#1a1a1a" stroke-width="0.18">TRA</text>
<text x="246.70" y="69.80" font-size="7.0" text-anchor="middle" font-weight="bold" fill="#1a1a1a" stroke="#1a1a1a" stroke-width="0.05" transform="rotate(-90 246.70 69.80)">Puncture time,s</text>
<text x="353.20" y="14.10" font-size="6.8" text-anchor="middle" font-weight="bold" fill="#1a1a1a" stroke="#1a1a1a" stroke-width="0.18">P=0.009</text>
<rect x="516.50" y="3.20" width="167.20" height="133.50" fill="#c9ddf6"/>
<circle cx="561.73" cy="134.90" r="0.55" fill="none" stroke="#5a9cf2" stroke-width="0.42"/>
<circle cx="559.11" cy="134.27" r="0.55" fill="none" stroke="#5a9cf2" stroke-width="0.42"/>
<circle cx="561.54" cy="134.40" r="0.55" fill="none" stroke="#5a9cf2" stroke-width="0.42"/>
<circle cx="564.20" cy="133.98" r="0.55" fill="none" stroke="#5a9cf2" stroke-width="0.42"/>
<circle cx="566.09" cy="134.11" r="0.55" fill="none" stroke="#5a9cf2" stroke-width="0.42"/>
<circle cx="557.24" cy="133.14" r="0.55" fill="none" stroke="#5a9cf2" stroke-width="0.42"/>
<circle cx="559.55" cy="133.07" r="0.55" fill="none" stroke="#5a9cf2" stroke-width="0.42"/>
<circle cx="561.42" cy="133.29" r="0.55" fill="none" stroke="#5a9cf2" stroke-width="0.42"/>
<circle cx="564.13" cy="133.30" r="0.55" fill="none" stroke="#5a9cf2" stroke-width="0.42"/>
<circle cx="571.08" cy="132.96" r="0.55" fill="none" stroke="#5a9cf2" stroke-width="0.42"/>
<circle cx="561.48" cy="131.77" r="0.55" fill="none" stroke="#5a9cf2" stroke-width="0.42"/>
<circle cx="566.38" cy="131.84" r="0.55" fill="none" stroke="#5a9cf2" stroke-width="0.42"/>
<circle cx="568.53" cy="131.88" r="0.55" fill="none" stroke="#5a9cf2" stroke-width="0.42"/>
<circle cx="570.95" cy="132.32" r="0.55" fill="none" stroke="#5a9cf2" stroke-width="0.42"/>
<circle cx="555.06" cy="131.29" r="0.55" fill="none" stroke="#5a9cf2" stroke-width="0.42"/>
<circle cx="559.20" cy="131.29" r="0.55" fill="none" stroke="#5a9cf2" stroke-width="0.42"/>
<circle cx="566.43" cy="130.77" r="0.55" fill="none" stroke="#5a9cf2" stroke-width="0.42"/>
<circle cx="570.77" cy="130.65" r="0.55" fill="none" stroke="#5a9cf2" stroke-width="0.42"/>
<circle cx="557.28" cy="129.93" r="0.55" fill="none" stroke="#5a9cf2" stroke-width="0.42"/>
<circle cx="559.28" cy="130.22" r="0.55" fill="none" stroke="#5a9cf2" stroke-width="0.42"/>
<circle cx="564.07" cy="129.64" r="0.55" fill="none" stroke="#5a9cf2" stroke-width="0.42"/>
<circle cx="568.83" cy="130.38" r="0.55" fill="none" stroke="#5a9cf2" stroke-width="0.42"/>
<circle cx="571.20" cy="129.85" r="0.55" fill="none" stroke="#5a9cf2" stroke-width="0.42"/>
<circle cx="573.26" cy="129.63" r="0.55" fill="none" stroke="#5a9cf2" stroke-width="0.42"/>
<circle cx="554.74" cy="129.09" r="0.55" fill="none" stroke="#5a9cf2" stroke-width="0.42"/>
<circle cx="556.83" cy="129.29" r="0.55" fill="none" stroke="#5a9cf2" stroke-width="0.42"/>
<circle cx="559.68" cy="129.32" r="0.55" fill="none" stroke="#5a9cf2" stroke-width="0.42"/>
<circle cx="561.68" cy="129.02" r="0.55" fill="none" stroke="#5a9cf2" stroke-width="0.42"/>
<circle cx="564.06" cy="129.05" r="0.55" fill="none" stroke="#5a9cf2" stroke-width="0.42"/>
<circle cx="566.56" cy="129.01" r="0.55" fill="none" stroke="#5a9cf2" stroke-width="0.42"/>
<circle cx="568.73" cy="128.79" r="0.55" fill="none" stroke="#5a9cf2" stroke-width="0.42"/>
<circle cx="571.19" cy="129.02" r="0.55" fill="none" stroke="#5a9cf2" stroke-width="0.42"/>
<circle cx="572.91" cy="128.93" r="0.55" fill="none" stroke="#5a9cf2" stroke-width="0.42"/>
<circle cx="552.21" cy="128.09" r="0.55" fill="none" stroke="#5a9cf2" stroke-width="0.42"/>
<circle cx="554.54" cy="128.10" r="0.55" fill="none" stroke="#5a9cf2" stroke-width="0.42"/>
<circle cx="557.21" cy="127.88" r="0.55" fill="none" stroke="#5a9cf2" stroke-width="0.42"/>
<circle cx="563.74" cy="128.14" r="0.55" fill="none" stroke="#5a9cf2" stroke-width="0.42"/>
<circle cx="568.57" cy="128.07" r="0.55" fill="none" stroke="#5a9cf2" stroke-width="0.42"/>
<circle cx="570.82" cy="127.85" r="0.55" fill="none" stroke="#5a9cf2" stroke-width="0.42"/>
<circle cx="573.26" cy="127.84" r="0.55" fill="none" stroke="#5a9cf2" stroke-width="0.42"/>
<circle cx="575.66" cy="127.62" r="0.55" fill="none" stroke="#5a9cf2" stroke-width="0.42"/>
<circle cx="552.64" cy="126.85" r="0.55" fill="none" stroke="#5a9cf2" stroke-width="0.42"/>
<circle cx="554.98" cy="126.79" r="0.55" fill="none" stroke="#5a9cf2" stroke-width="0.42"/>
<circle cx="557.06" cy="127.16" r="0.55" fill="none" stroke="#5a9cf2" stroke-width="0.42"/>
<circle cx="559.29" cy="126.87" r="0.55" fill="none" stroke="#5a9cf2" stroke-width="0.42"/>
<circle cx="564.21" cy="126.74" r="0.55" fill="none" stroke="#5a9cf2" stroke-width="0.42"/>
<circle cx="566.39" cy="127.31" r="0.55" fill="none" stroke="#5a9cf2" stroke-width="0.42"/>
<circle cx="568.44" cy="126.70" r="0.55" fill="none" stroke="#5a9cf2" stroke-width="0.42"/>
<circle cx="570.71" cy="127.25" r="0.55" fill="none" stroke="#5a9cf2" stroke-width="0.42"/>
<circle cx="575.37" cy="127.25" r="0.55" fill="none" stroke="#5a9cf2" stroke-width="0.42"/>
<circle cx="552.68" cy="125.88" r="0.55" fill="none" stroke="#5a9cf2" stroke-width="0.42"/>
<circle cx="554.68" cy="126.24" r="0.55" fill="none" stroke="#5a9cf2" stroke-width="0.42"/>
<circle cx="557.01" cy="125.93" r="0.55" fill="none" stroke="#5a9cf2" stroke-width="0.42"/>
<circle cx="559.35" cy="126.34" r="0.55" fill="none" stroke="#5a9cf2" stroke-width="0.42"/>
<circle cx="561.40" cy="126.35" r="0.55" fill="none" stroke="#5a9cf2" stroke-width="0.42"/>
<circle cx="568.87" cy="126.34" r="0.55" fill="none" stroke="#5a9cf2" stroke-width="0.42"/>
<circle cx="571.05" cy="126.27" r="0.55" fill="none" stroke="#5a9cf2" stroke-width="0.42"/>
<circle cx="573.21" cy="125.83" r="0.55" fill="none" stroke="#5a9cf2" stroke-width="0.42"/>
<circle cx="575.34" cy="125.65" r="0.55" fill="none" stroke="#5a9cf2" stroke-width="0.42"/>
<circle cx="552.37" cy="125.25" r="0.55" fill="none" stroke="#5a9cf2" stroke-width="0.42"/>
<circle cx="555.04" cy="125.15" r="0.55" fill="none" stroke="#5a9cf2" stroke-width="0.42"/>
<circle cx="563.71" cy="125.20" r="0.55" fill="none" stroke="#5a9cf2" stroke-width="0.42"/>
<circle cx="566.18" cy="125.13" r="0.55" fill="none" stroke="#5a9cf2" stroke-width="0.42"/>
<circle cx="568.55" cy="125.35" r="0.55" fill="none" stroke="#5a9cf2" stroke-width="0.42"/>
<circle cx="570.80" cy="124.80" r="0.55" fill="none" stroke="#5a9cf2" stroke-width="0.42"/>
<circle cx="575.67" cy="124.88" r="0.55" fill="none" stroke="#5a9cf2" stroke-width="0.42"/>
<circle cx="552.52" cy="124.25" r="0.55" fill="none" stroke="#5a9cf2" stroke-width="0.42"/>
<circle cx="554.98" cy="124.34" r="0.55" fill="none" stroke="#5a9cf2" stroke-width="0.42"/>
<circle cx="561.78" cy="124.29" r="0.55" fill="none" stroke="#5a9cf2" stroke-width="0.42"/>
<circle cx="563.86" cy="123.81" r="0.55" fill="none" stroke="#5a9cf2" stroke-width="0.42"/>
<circle cx="566.25" cy="123.98" r="0.55" fill="none" stroke="#5a9cf2" stroke-width="0.42"/>
<circle cx="570.63" cy="123.70" r="0.55" fill="none" stroke="#5a9cf2" stroke-width="0.42"/>
<circle cx="572.94" cy="124.38" r="0.55" fill="none" stroke="#5a9cf2" stroke-width="0.42"/>
<circle cx="552.50" cy="122.85" r="0.55" fill="none" stroke="#5a9cf2" stroke-width="0.42"/>
<circle cx="554.71" cy="123.12" r="0.55" fill="none" stroke="#5a9cf2" stroke-width="0.42"/>
<circle cx="557.02" cy="122.75" r="0.55" fill="none" stroke="#5a9cf2" stroke-width="0.42"/>
<circle cx="559.17" cy="123.04" r="0.55" fill="none" stroke="#5a9cf2" stroke-width="0.42"/>
<circle cx="563.75" cy="122.74" r="0.55" fill="none" stroke="#5a9cf2" stroke-width="0.42"/>
<circle cx="566.36" cy="123.23" r="0.55" fill="none" stroke="#5a9cf2" stroke-width="0.42"/>
<circle cx="568.78" cy="123.10" r="0.55" fill="none" stroke="#5a9cf2" stroke-width="0.42"/>
<circle cx="570.82" cy="123.00" r="0.55" fill="none" stroke="#5a9cf2" stroke-width="0.42"/>
<circle cx="575.62" cy="122.97" r="0.55" fill="none" stroke="#5a9cf2" stroke-width="0.42"/>
<circle cx="552.52" cy="122.16" r="0.55" fill="none" stroke="#5a9cf2" stroke-width="0.42"/>
<circle cx="554.75" cy="121.94" r="0.55" fill="none" stroke="#5a9cf2" stroke-width="0.42"/>
<circle cx="561.94" cy="122.23" r="0.55" fill="none" stroke="#5a9cf2" stroke-width="0.42"/>
<circle cx="563.98" cy="121.70" r="0.55" fill="none" stroke="#5a9cf2" stroke-width="0.42"/>
<circle cx="568.83" cy="122.23" r="0.55" fill="none" stroke="#5a9cf2" stroke-width="0.42"/>
<circle cx="571.04" cy="122.05" r="0.55" fill="none" stroke="#5a9cf2" stroke-width="0.42"/>
<circle cx="573.25" cy="121.60" r="0.55" fill="none" stroke="#5a9cf2" stroke-width="0.42"/>
<circle cx="575.66" cy="121.64" r="0.55" fill="none" stroke="#5a9cf2" stroke-width="0.42"/>
<circle cx="554.56" cy="121.30" r="0.55" fill="none" stroke="#5a9cf2" stroke-width="0.42"/>
<circle cx="556.81" cy="121.27" r="0.55" fill="none" stroke="#5a9cf2" stroke-width="0.42"/>
<circle cx="559.61" cy="121.14" r="0.55" fill="none" stroke="#5a9cf2" stroke-width="0.42"/>
<circle cx="566.48" cy="120.63" r="0.55" fill="none" stroke="#5a9cf2" stroke-width="0.42"/>
<circle cx="571.03" cy="120.69" r="0.55" fill="none" stroke="#5a9cf2" stroke-width="0.42"/>
<circle cx="556.99" cy="120.05" r="0.55" fill="none" stroke="#5a9cf2" stroke-width="0.42"/>
<circle cx="561.51" cy="119.80" r="0.55" fill="none" stroke="#5a9cf2" stroke-width="0.42"/>
<circle cx="564.15" cy="119.91" r="0.55" fill="none" stroke="#5a9cf2" stroke-width="0.42"/>
<circle cx="566.24" cy="119.88" r="0.55" fill="none" stroke="#5a9cf2" stroke-width="0.42"/>
<circle cx="568.35" cy="120.00" r="0.55" fill="none" stroke="#5a9cf2" stroke-width="0.42"/>
<circle cx="573.35" cy="119.73" r="0.55" fill="none" stroke="#5a9cf2" stroke-width="0.42"/>
<circle cx="554.95" cy="119.14" r="0.55" fill="none" stroke="#5a9cf2" stroke-width="0.42"/>
<circle cx="557.09" cy="119.11" r="0.55" fill="none" stroke="#5a9cf2" stroke-width="0.42"/>
<circle cx="561.46" cy="119.20" r="0.55" fill="none" stroke="#5a9cf2" stroke-width="0.42"/>
<circle cx="566.27" cy="119.18" r="0.55" fill="none" stroke="#5a9cf2" stroke-width="0.42"/>
<circle cx="568.46" cy="118.76" r="0.55" fill="none" stroke="#5a9cf2" stroke-width="0.42"/>
<circle cx="570.79" cy="118.79" r="0.55" fill="none" stroke="#5a9cf2" stroke-width="0.42"/>
<circle cx="573.47" cy="118.84" r="0.55" fill="none" stroke="#5a9cf2" stroke-width="0.42"/>
<circle cx="557.31" cy="118.07" r="0.55" fill="none" stroke="#5a9cf2" stroke-width="0.42"/>
<circle cx="559.23" cy="117.62" r="0.55" fill="none" stroke="#5a9cf2" stroke-width="0.42"/>
<circle cx="561.63" cy="117.74" r="0.55" fill="none" stroke="#5a9cf2" stroke-width="0.42"/>
<circle cx="563.89" cy="118.22" r="0.55" fill="none" stroke="#5a9cf2" stroke-width="0.42"/>
<circle cx="566.59" cy="117.98" r="0.55" fill="none" stroke="#5a9cf2" stroke-width="0.42"/>
<circle cx="568.58" cy="118.27" r="0.55" fill="none" stroke="#5a9cf2" stroke-width="0.42"/>
<circle cx="573.19" cy="118.18" r="0.55" fill="none" stroke="#5a9cf2" stroke-width="0.42"/>
<circle cx="557.24" cy="117.37" r="0.55" fill="none" stroke="#5a9cf2" stroke-width="0.42"/>
<circle cx="559.24" cy="116.79" r="0.55" fill="none" stroke="#5a9cf2" stroke-width="0.42"/>
<circle cx="564.28" cy="117.28" r="0.55" fill="none" stroke="#5a9cf2" stroke-width="0.42"/>
<circle cx="566.11" cy="116.81" r="0.55" fill="none" stroke="#5a9cf2" stroke-width="0.42"/>
<circle cx="568.72" cy="117.29" r="0.55" fill="none" stroke="#5a9cf2" stroke-width="0.42"/>
<circle cx="573.42" cy="116.85" r="0.55" fill="none" stroke="#5a9cf2" stroke-width="0.42"/>
<circle cx="557.24" cy="115.67" r="0.55" fill="none" stroke="#5a9cf2" stroke-width="0.42"/>
<circle cx="559.60" cy="115.83" r="0.55" fill="none" stroke="#5a9cf2" stroke-width="0.42"/>
<circle cx="561.75" cy="116.14" r="0.55" fill="none" stroke="#5a9cf2" stroke-width="0.42"/>
<circle cx="563.90" cy="115.95" r="0.55" fill="none" stroke="#5a9cf2" stroke-width="0.42"/>
<circle cx="566.13" cy="116.07" r="0.55" fill="none" stroke="#5a9cf2" stroke-width="0.42"/>
<circle cx="570.93" cy="115.70" r="0.55" fill="none" stroke="#5a9cf2" stroke-width="0.42"/>
<circle cx="557.20" cy="114.69" r="0.55" fill="none" stroke="#5a9cf2" stroke-width="0.42"/>
<circle cx="564.26" cy="114.90" r="0.55" fill="none" stroke="#5a9cf2" stroke-width="0.42"/>
<circle cx="571.01" cy="115.12" r="0.55" fill="none" stroke="#5a9cf2" stroke-width="0.42"/>
<circle cx="559.55" cy="114.37" r="0.55" fill="none" stroke="#5a9cf2" stroke-width="0.42"/>
<circle cx="561.72" cy="113.69" r="0.55" fill="none" stroke="#5a9cf2" stroke-width="0.42"/>
<circle cx="563.91" cy="114.17" r="0.55" fill="none" stroke="#5a9cf2" stroke-width="0.42"/>
<circle cx="566.34" cy="113.75" r="0.55" fill="none" stroke="#5a9cf2" stroke-width="0.42"/>
<circle cx="568.68" cy="113.74" r="0.55" fill="none" stroke="#5a9cf2" stroke-width="0.42"/>
<circle cx="556.87" cy="113.35" r="0.55" fill="none" stroke="#5a9cf2" stroke-width="0.42"/>
<circle cx="559.30" cy="113.18" r="0.55" fill="none" stroke="#5a9cf2" stroke-width="0.42"/>
<circle cx="561.73" cy="113.12" r="0.55" fill="none" stroke="#5a9cf2" stroke-width="0.42"/>
<circle cx="563.89" cy="112.74" r="0.55" fill="none" stroke="#5a9cf2" stroke-width="0.42"/>
<circle cx="566.43" cy="113.20" r="0.55" fill="none" stroke="#5a9cf2" stroke-width="0.42"/>
<circle cx="568.74" cy="112.89" r="0.55" fill="none" stroke="#5a9cf2" stroke-width="0.42"/>
<circle cx="570.83" cy="113.30" r="0.55" fill="none" stroke="#5a9cf2" stroke-width="0.42"/>
<circle cx="559.40" cy="111.80" r="0.55" fill="none" stroke="#5a9cf2" stroke-width="0.42"/>
<circle cx="563.90" cy="111.92" r="0.55" fill="none" stroke="#5a9cf2" stroke-width="0.42"/>
<circle cx="566.46" cy="111.88" r="0.55" fill="none" stroke="#5a9cf2" stroke-width="0.42"/>
<circle cx="559.26" cy="110.68" r="0.55" fill="none" stroke="#5a9cf2" stroke-width="0.42"/>
<circle cx="561.87" cy="111.18" r="0.55" fill="none" stroke="#5a9cf2" stroke-width="0.42"/>
<circle cx="563.81" cy="110.93" r="0.55" fill="none" stroke="#5a9cf2" stroke-width="0.42"/>
<circle cx="561.49" cy="109.92" r="0.55" fill="none" stroke="#5a9cf2" stroke-width="0.42"/>
<circle cx="564.02" cy="110.05" r="0.55" fill="none" stroke="#5a9cf2" stroke-width="0.42"/>
<circle cx="566.15" cy="110.23" r="0.55" fill="none" stroke="#5a9cf2" stroke-width="0.42"/>
<circle cx="568.78" cy="110.31" r="0.55" fill="none" stroke="#5a9cf2" stroke-width="0.42"/>
<circle cx="564.03" cy="109.07" r="0.55" fill="none" stroke="#5a9cf2" stroke-width="0.42"/>
<circle cx="566.52" cy="107.99" r="0.55" fill="none" stroke="#5a9cf2" stroke-width="0.42"/>
<circle cx="566.46" cy="107.13" r="0.55" fill="none" stroke="#5a9cf2" stroke-width="0.42"/>
<circle cx="561.71" cy="105.97" r="0.55" fill="none" stroke="#5a9cf2" stroke-width="0.42"/>
<circle cx="564.02" cy="105.63" r="0.55" fill="none" stroke="#5a9cf2" stroke-width="0.42"/>
<circle cx="566.39" cy="105.96" r="0.55" fill="none" stroke="#5a9cf2" stroke-width="0.42"/>
<circle cx="564.28" cy="105.31" r="0.55" fill="none" stroke="#5a9cf2" stroke-width="0.42"/>
<circle cx="564.18" cy="104.10" r="0.55" fill="none" stroke="#5a9cf2" stroke-width="0.42"/>
<circle cx="563.92" cy="102.79" r="0.55" fill="none" stroke="#5a9cf2" stroke-width="0.42"/>
<circle cx="564.02" cy="102.34" r="0.55" fill="none" stroke="#5a9cf2" stroke-width="0.42"/>
<circle cx="564.22" cy="101.16" r="0.55" fill="none" stroke="#5a9cf2" stroke-width="0.42"/>
<circle cx="564.21" cy="100.08" r="0.55" fill="none" stroke="#5a9cf2" stroke-width="0.42"/>
<circle cx="564.14" cy="97.87" r="0.55" fill="none" stroke="#5a9cf2" stroke-width="0.42"/>
<circle cx="552.65" cy="122.59" r="0.55" fill="none" stroke="#5a9cf2" stroke-width="0.42"/>
<circle cx="554.53" cy="122.18" r="0.55" fill="none" stroke="#5a9cf2" stroke-width="0.42"/>
<circle cx="556.90" cy="122.60" r="0.55" fill="none" stroke="#5a9cf2" stroke-width="0.42"/>
<circle cx="561.65" cy="122.75" r="0.55" fill="none" stroke="#5a9cf2" stroke-width="0.42"/>
<circle cx="563.98" cy="122.86" r="0.55" fill="none" stroke="#5a9cf2" stroke-width="0.42"/>
<circle cx="566.11" cy="123.00" r="0.55" fill="none" stroke="#5a9cf2" stroke-width="0.42"/>
<circle cx="570.82" cy="122.63" r="0.55" fill="none" stroke="#5a9cf2" stroke-width="0.42"/>
<circle cx="573.03" cy="122.10" r="0.55" fill="none" stroke="#5a9cf2" stroke-width="0.42"/>
<circle cx="575.67" cy="122.24" r="0.55" fill="none" stroke="#5a9cf2" stroke-width="0.42"/>
<circle cx="577.62" cy="122.31" r="0.55" fill="none" stroke="#5a9cf2" stroke-width="0.42"/>
<circle cx="562.80" cy="58.20" r="0.55" fill="none" stroke="#5a9cf2" stroke-width="0.42"/>
<circle cx="565.20" cy="58.20" r="0.55" fill="none" stroke="#5a9cf2" stroke-width="0.42"/>
<circle cx="564.00" cy="65.80" r="0.55" fill="none" stroke="#5a9cf2" stroke-width="0.42"/>
<circle cx="564.00" cy="80.10" r="0.55" fill="none" stroke="#5a9cf2" stroke-width="0.42"/>
<circle cx="563.00" cy="87.30" r="0.55" fill="none" stroke="#5a9cf2" stroke-width="0.42"/>
<circle cx="565.00" cy="87.30" r="0.55" fill="none" stroke="#5a9cf2" stroke-width="0.42"/>
<circle cx="563.00" cy="92.90" r="0.55" fill="none" stroke="#5a9cf2" stroke-width="0.42"/>
<circle cx="565.00" cy="92.90" r="0.55" fill="none" stroke="#5a9cf2" stroke-width="0.42"/>
<circle cx="635.16" cy="134.92" r="0.55" fill="none" stroke="#f26c6c" stroke-width="0.42"/>
<circle cx="630.54" cy="133.92" r="0.55" fill="none" stroke="#f26c6c" stroke-width="0.42"/>
<circle cx="640.02" cy="133.82" r="0.55" fill="none" stroke="#f26c6c" stroke-width="0.42"/>
<circle cx="628.26" cy="132.77" r="0.55" fill="none" stroke="#f26c6c" stroke-width="0.42"/>
<circle cx="639.89" cy="133.10" r="0.55" fill="none" stroke="#f26c6c" stroke-width="0.42"/>
<circle cx="633.16" cy="132.14" r="0.55" fill="none" stroke="#f26c6c" stroke-width="0.42"/>
<circle cx="635.21" cy="131.98" r="0.55" fill="none" stroke="#f26c6c" stroke-width="0.42"/>
<circle cx="637.96" cy="132.29" r="0.55" fill="none" stroke="#f26c6c" stroke-width="0.42"/>
<circle cx="639.88" cy="132.33" r="0.55" fill="none" stroke="#f26c6c" stroke-width="0.42"/>
<circle cx="642.53" cy="132.28" r="0.55" fill="none" stroke="#f26c6c" stroke-width="0.42"/>
<circle cx="626.15" cy="131.08" r="0.55" fill="none" stroke="#f26c6c" stroke-width="0.42"/>
<circle cx="628.30" cy="130.84" r="0.55" fill="none" stroke="#f26c6c" stroke-width="0.42"/>
<circle cx="632.83" cy="131.10" r="0.55" fill="none" stroke="#f26c6c" stroke-width="0.42"/>
<circle cx="635.42" cy="130.98" r="0.55" fill="none" stroke="#f26c6c" stroke-width="0.42"/>
<circle cx="638.00" cy="130.76" r="0.55" fill="none" stroke="#f26c6c" stroke-width="0.42"/>
<circle cx="639.82" cy="131.11" r="0.55" fill="none" stroke="#f26c6c" stroke-width="0.42"/>
<circle cx="642.21" cy="131.20" r="0.55" fill="none" stroke="#f26c6c" stroke-width="0.42"/>
<circle cx="644.64" cy="131.32" r="0.55" fill="none" stroke="#f26c6c" stroke-width="0.42"/>
<circle cx="625.94" cy="129.78" r="0.55" fill="none" stroke="#f26c6c" stroke-width="0.42"/>
<circle cx="630.64" cy="129.86" r="0.55" fill="none" stroke="#f26c6c" stroke-width="0.42"/>
<circle cx="633.08" cy="129.63" r="0.55" fill="none" stroke="#f26c6c" stroke-width="0.42"/>
<circle cx="635.64" cy="130.36" r="0.55" fill="none" stroke="#f26c6c" stroke-width="0.42"/>
<circle cx="642.17" cy="130.37" r="0.55" fill="none" stroke="#f26c6c" stroke-width="0.42"/>
<circle cx="626.47" cy="129.10" r="0.55" fill="none" stroke="#f26c6c" stroke-width="0.42"/>
<circle cx="630.61" cy="128.96" r="0.55" fill="none" stroke="#f26c6c" stroke-width="0.42"/>
<circle cx="633.03" cy="129.37" r="0.55" fill="none" stroke="#f26c6c" stroke-width="0.42"/>
<circle cx="635.11" cy="128.64" r="0.55" fill="none" stroke="#f26c6c" stroke-width="0.42"/>
<circle cx="637.87" cy="128.89" r="0.55" fill="none" stroke="#f26c6c" stroke-width="0.42"/>
<circle cx="639.76" cy="129.39" r="0.55" fill="none" stroke="#f26c6c" stroke-width="0.42"/>
<circle cx="642.12" cy="128.65" r="0.55" fill="none" stroke="#f26c6c" stroke-width="0.42"/>
<circle cx="644.40" cy="129.14" r="0.55" fill="none" stroke="#f26c6c" stroke-width="0.42"/>
<circle cx="623.62" cy="127.99" r="0.55" fill="none" stroke="#f26c6c" stroke-width="0.42"/>
<circle cx="626.50" cy="127.70" r="0.55" fill="none" stroke="#f26c6c" stroke-width="0.42"/>
<circle cx="628.66" cy="127.93" r="0.55" fill="none" stroke="#f26c6c" stroke-width="0.42"/>
<circle cx="632.95" cy="127.93" r="0.55" fill="none" stroke="#f26c6c" stroke-width="0.42"/>
<circle cx="635.35" cy="127.80" r="0.55" fill="none" stroke="#f26c6c" stroke-width="0.42"/>
<circle cx="642.02" cy="127.80" r="0.55" fill="none" stroke="#f26c6c" stroke-width="0.42"/>
<circle cx="644.42" cy="127.79" r="0.55" fill="none" stroke="#f26c6c" stroke-width="0.42"/>
<circle cx="623.63" cy="127.34" r="0.55" fill="none" stroke="#f26c6c" stroke-width="0.42"/>
<circle cx="626.49" cy="126.92" r="0.55" fill="none" stroke="#f26c6c" stroke-width="0.42"/>
<circle cx="630.97" cy="127.20" r="0.55" fill="none" stroke="#f26c6c" stroke-width="0.42"/>
<circle cx="632.86" cy="126.77" r="0.55" fill="none" stroke="#f26c6c" stroke-width="0.42"/>
<circle cx="642.39" cy="127.24" r="0.55" fill="none" stroke="#f26c6c" stroke-width="0.42"/>
<circle cx="644.79" cy="127.02" r="0.55" fill="none" stroke="#f26c6c" stroke-width="0.42"/>
<circle cx="647.01" cy="126.81" r="0.55" fill="none" stroke="#f26c6c" stroke-width="0.42"/>
<circle cx="628.78" cy="126.37" r="0.55" fill="none" stroke="#f26c6c" stroke-width="0.42"/>
<circle cx="630.53" cy="126.32" r="0.55" fill="none" stroke="#f26c6c" stroke-width="0.42"/>
<circle cx="633.38" cy="126.13" r="0.55" fill="none" stroke="#f26c6c" stroke-width="0.42"/>
<circle cx="635.20" cy="126.11" r="0.55" fill="none" stroke="#f26c6c" stroke-width="0.42"/>
<circle cx="637.85" cy="126.34" r="0.55" fill="none" stroke="#f26c6c" stroke-width="0.42"/>
<circle cx="639.70" cy="126.34" r="0.55" fill="none" stroke="#f26c6c" stroke-width="0.42"/>
<circle cx="642.53" cy="125.69" r="0.55" fill="none" stroke="#f26c6c" stroke-width="0.42"/>
<circle cx="626.43" cy="124.76" r="0.55" fill="none" stroke="#f26c6c" stroke-width="0.42"/>
<circle cx="628.40" cy="125.31" r="0.55" fill="none" stroke="#f26c6c" stroke-width="0.42"/>
<circle cx="633.12" cy="124.62" r="0.55" fill="none" stroke="#f26c6c" stroke-width="0.42"/>
<circle cx="635.46" cy="124.99" r="0.55" fill="none" stroke="#f26c6c" stroke-width="0.42"/>
<circle cx="639.78" cy="124.89" r="0.55" fill="none" stroke="#f26c6c" stroke-width="0.42"/>
<circle cx="644.31" cy="125.27" r="0.55" fill="none" stroke="#f26c6c" stroke-width="0.42"/>
<circle cx="623.93" cy="123.90" r="0.55" fill="none" stroke="#f26c6c" stroke-width="0.42"/>
<circle cx="628.34" cy="123.99" r="0.55" fill="none" stroke="#f26c6c" stroke-width="0.42"/>
<circle cx="632.87" cy="124.10" r="0.55" fill="none" stroke="#f26c6c" stroke-width="0.42"/>
<circle cx="637.66" cy="124.29" r="0.55" fill="none" stroke="#f26c6c" stroke-width="0.42"/>
<circle cx="642.53" cy="123.76" r="0.55" fill="none" stroke="#f26c6c" stroke-width="0.42"/>
<circle cx="644.80" cy="123.94" r="0.55" fill="none" stroke="#f26c6c" stroke-width="0.42"/>
<circle cx="624.12" cy="122.74" r="0.55" fill="none" stroke="#f26c6c" stroke-width="0.42"/>
<circle cx="626.20" cy="122.87" r="0.55" fill="none" stroke="#f26c6c" stroke-width="0.42"/>
<circle cx="628.74" cy="123.17" r="0.55" fill="none" stroke="#f26c6c" stroke-width="0.42"/>
<circle cx="630.69" cy="123.04" r="0.55" fill="none" stroke="#f26c6c" stroke-width="0.42"/>
<circle cx="633.23" cy="122.99" r="0.55" fill="none" stroke="#f26c6c" stroke-width="0.42"/>
<circle cx="635.25" cy="123.28" r="0.55" fill="none" stroke="#f26c6c" stroke-width="0.42"/>
<circle cx="637.86" cy="123.39" r="0.55" fill="none" stroke="#f26c6c" stroke-width="0.42"/>
<circle cx="640.11" cy="123.09" r="0.55" fill="none" stroke="#f26c6c" stroke-width="0.42"/>
<circle cx="642.55" cy="122.97" r="0.55" fill="none" stroke="#f26c6c" stroke-width="0.42"/>
<circle cx="647.12" cy="123.23" r="0.55" fill="none" stroke="#f26c6c" stroke-width="0.42"/>
<circle cx="626.17" cy="121.71" r="0.55" fill="none" stroke="#f26c6c" stroke-width="0.42"/>
<circle cx="630.90" cy="121.71" r="0.55" fill="none" stroke="#f26c6c" stroke-width="0.42"/>
<circle cx="632.89" cy="122.25" r="0.55" fill="none" stroke="#f26c6c" stroke-width="0.42"/>
<circle cx="635.64" cy="121.90" r="0.55" fill="none" stroke="#f26c6c" stroke-width="0.42"/>
<circle cx="637.61" cy="122.10" r="0.55" fill="none" stroke="#f26c6c" stroke-width="0.42"/>
<circle cx="639.94" cy="122.35" r="0.55" fill="none" stroke="#f26c6c" stroke-width="0.42"/>
<circle cx="642.39" cy="121.86" r="0.55" fill="none" stroke="#f26c6c" stroke-width="0.42"/>
<circle cx="644.31" cy="121.62" r="0.55" fill="none" stroke="#f26c6c" stroke-width="0.42"/>
<circle cx="637.75" cy="121.00" r="0.55" fill="none" stroke="#f26c6c" stroke-width="0.42"/>
<circle cx="640.26" cy="121.21" r="0.55" fill="none" stroke="#f26c6c" stroke-width="0.42"/>
<circle cx="644.69" cy="121.14" r="0.55" fill="none" stroke="#f26c6c" stroke-width="0.42"/>
<circle cx="631.00" cy="119.84" r="0.55" fill="none" stroke="#f26c6c" stroke-width="0.42"/>
<circle cx="635.46" cy="120.32" r="0.55" fill="none" stroke="#f26c6c" stroke-width="0.42"/>
<circle cx="639.84" cy="119.86" r="0.55" fill="none" stroke="#f26c6c" stroke-width="0.42"/>
<circle cx="642.60" cy="120.32" r="0.55" fill="none" stroke="#f26c6c" stroke-width="0.42"/>
<circle cx="628.44" cy="119.25" r="0.55" fill="none" stroke="#f26c6c" stroke-width="0.42"/>
<circle cx="630.75" cy="118.61" r="0.55" fill="none" stroke="#f26c6c" stroke-width="0.42"/>
<circle cx="633.12" cy="119.15" r="0.55" fill="none" stroke="#f26c6c" stroke-width="0.42"/>
<circle cx="635.32" cy="119.36" r="0.55" fill="none" stroke="#f26c6c" stroke-width="0.42"/>
<circle cx="637.49" cy="118.65" r="0.55" fill="none" stroke="#f26c6c" stroke-width="0.42"/>
<circle cx="630.69" cy="117.67" r="0.55" fill="none" stroke="#f26c6c" stroke-width="0.42"/>
<circle cx="632.93" cy="118.34" r="0.55" fill="none" stroke="#f26c6c" stroke-width="0.42"/>
<circle cx="639.84" cy="117.84" r="0.55" fill="none" stroke="#f26c6c" stroke-width="0.42"/>
<circle cx="630.97" cy="117.14" r="0.55" fill="none" stroke="#f26c6c" stroke-width="0.42"/>
<circle cx="633.38" cy="116.81" r="0.55" fill="none" stroke="#f26c6c" stroke-width="0.42"/>
<circle cx="635.19" cy="116.68" r="0.55" fill="none" stroke="#f26c6c" stroke-width="0.42"/>
<circle cx="637.59" cy="116.70" r="0.55" fill="none" stroke="#f26c6c" stroke-width="0.42"/>
<circle cx="640.30" cy="116.83" r="0.55" fill="none" stroke="#f26c6c" stroke-width="0.42"/>
<circle cx="637.97" cy="116.30" r="0.55" fill="none" stroke="#f26c6c" stroke-width="0.42"/>
<circle cx="630.92" cy="115.18" r="0.55" fill="none" stroke="#f26c6c" stroke-width="0.42"/>
<circle cx="633.10" cy="114.72" r="0.55" fill="none" stroke="#f26c6c" stroke-width="0.42"/>
<circle cx="637.44" cy="114.73" r="0.55" fill="none" stroke="#f26c6c" stroke-width="0.42"/>
<circle cx="630.73" cy="114.15" r="0.55" fill="none" stroke="#f26c6c" stroke-width="0.42"/>
<circle cx="635.33" cy="113.94" r="0.55" fill="none" stroke="#f26c6c" stroke-width="0.42"/>
<circle cx="637.93" cy="113.62" r="0.55" fill="none" stroke="#f26c6c" stroke-width="0.42"/>
<circle cx="630.59" cy="113.28" r="0.55" fill="none" stroke="#f26c6c" stroke-width="0.42"/>
<circle cx="635.43" cy="112.98" r="0.55" fill="none" stroke="#f26c6c" stroke-width="0.42"/>
<circle cx="640.20" cy="113.40" r="0.55" fill="none" stroke="#f26c6c" stroke-width="0.42"/>
<circle cx="637.91" cy="112.27" r="0.55" fill="none" stroke="#f26c6c" stroke-width="0.42"/>
<circle cx="639.76" cy="112.10" r="0.55" fill="none" stroke="#f26c6c" stroke-width="0.42"/>
<circle cx="633.19" cy="111.32" r="0.55" fill="none" stroke="#f26c6c" stroke-width="0.42"/>
<circle cx="635.12" cy="111.11" r="0.55" fill="none" stroke="#f26c6c" stroke-width="0.42"/>
<circle cx="637.91" cy="111.13" r="0.55" fill="none" stroke="#f26c6c" stroke-width="0.42"/>
<circle cx="640.24" cy="111.10" r="0.55" fill="none" stroke="#f26c6c" stroke-width="0.42"/>
<circle cx="631.00" cy="110.31" r="0.55" fill="none" stroke="#f26c6c" stroke-width="0.42"/>
<circle cx="637.82" cy="110.08" r="0.55" fill="none" stroke="#f26c6c" stroke-width="0.42"/>
<circle cx="640.29" cy="109.88" r="0.55" fill="none" stroke="#f26c6c" stroke-width="0.42"/>
<circle cx="630.93" cy="109.00" r="0.55" fill="none" stroke="#f26c6c" stroke-width="0.42"/>
<circle cx="633.16" cy="108.80" r="0.55" fill="none" stroke="#f26c6c" stroke-width="0.42"/>
<circle cx="635.14" cy="109.23" r="0.55" fill="none" stroke="#f26c6c" stroke-width="0.42"/>
<circle cx="639.77" cy="109.38" r="0.55" fill="none" stroke="#f26c6c" stroke-width="0.42"/>
<circle cx="635.10" cy="108.28" r="0.55" fill="none" stroke="#f26c6c" stroke-width="0.42"/>
<circle cx="635.54" cy="106.63" r="0.55" fill="none" stroke="#f26c6c" stroke-width="0.42"/>
<circle cx="637.49" cy="106.89" r="0.55" fill="none" stroke="#f26c6c" stroke-width="0.42"/>
<circle cx="633.03" cy="105.08" r="0.55" fill="none" stroke="#f26c6c" stroke-width="0.42"/>
<circle cx="635.35" cy="105.38" r="0.55" fill="none" stroke="#f26c6c" stroke-width="0.42"/>
<circle cx="635.51" cy="103.23" r="0.55" fill="none" stroke="#f26c6c" stroke-width="0.42"/>
<circle cx="635.36" cy="101.74" r="0.55" fill="none" stroke="#f26c6c" stroke-width="0.42"/>
<circle cx="635.63" cy="101.35" r="0.55" fill="none" stroke="#f26c6c" stroke-width="0.42"/>
<circle cx="635.55" cy="99.93" r="0.55" fill="none" stroke="#f26c6c" stroke-width="0.42"/>
<circle cx="635.61" cy="98.86" r="0.55" fill="none" stroke="#f26c6c" stroke-width="0.42"/>
<circle cx="635.25" cy="98.01" r="0.55" fill="none" stroke="#f26c6c" stroke-width="0.42"/>
<circle cx="635.26" cy="96.83" r="0.55" fill="none" stroke="#f26c6c" stroke-width="0.42"/>
<circle cx="621.75" cy="122.59" r="0.55" fill="none" stroke="#f26c6c" stroke-width="0.42"/>
<circle cx="625.96" cy="122.71" r="0.55" fill="none" stroke="#f26c6c" stroke-width="0.42"/>
<circle cx="635.17" cy="122.84" r="0.55" fill="none" stroke="#f26c6c" stroke-width="0.42"/>
<circle cx="637.99" cy="122.67" r="0.55" fill="none" stroke="#f26c6c" stroke-width="0.42"/>
<circle cx="640.21" cy="122.61" r="0.55" fill="none" stroke="#f26c6c" stroke-width="0.42"/>
<circle cx="644.64" cy="123.16" r="0.55" fill="none" stroke="#f26c6c" stroke-width="0.42"/>
<circle cx="649.41" cy="122.68" r="0.55" fill="none" stroke="#f26c6c" stroke-width="0.42"/>
<circle cx="635.40" cy="29.00" r="0.55" fill="none" stroke="#f26c6c" stroke-width="0.42"/>
<circle cx="635.40" cy="50.00" r="0.55" fill="none" stroke="#f26c6c" stroke-width="0.42"/>
<circle cx="635.40" cy="79.20" r="0.55" fill="none" stroke="#f26c6c" stroke-width="0.42"/>
<circle cx="634.40" cy="85.00" r="0.55" fill="none" stroke="#f26c6c" stroke-width="0.42"/>
<circle cx="636.40" cy="85.00" r="0.55" fill="none" stroke="#f26c6c" stroke-width="0.42"/>
<circle cx="635.40" cy="90.30" r="0.55" fill="none" stroke="#f26c6c" stroke-width="0.42"/>
<circle cx="634.40" cy="94.10" r="0.55" fill="none" stroke="#f26c6c" stroke-width="0.42"/>
<circle cx="636.40" cy="94.10" r="0.55" fill="none" stroke="#f26c6c" stroke-width="0.42"/>
<circle cx="642.40" cy="108.10" r="0.55" fill="none" stroke="#f26c6c" stroke-width="0.42"/>
<line x1="540.30" y1="122.90" x2="587.80" y2="122.90" stroke="#6e76f2" stroke-width="1.25"/>
<line x1="612.05" y1="123.50" x2="659.55" y2="123.50" stroke="#f4464a" stroke-width="1.25"/>
<path d="M516.50 3.20 V136.70 H684.00" fill="none" stroke="#050505" stroke-width="1.3"/>
<line x1="512.90" y1="136.70" x2="516.50" y2="136.70" stroke="#050505" stroke-width="1.1"/>
<text x="511.90" y="139.30" font-size="6.4" text-anchor="end" font-weight="bold" fill="#1a1a1a" stroke="#1a1a1a" stroke-width="0.18">0</text>
<line x1="512.90" y1="103.32" x2="516.50" y2="103.32" stroke="#050505" stroke-width="1.1"/>
<text x="511.90" y="105.92" font-size="6.4" text-anchor="end" font-weight="bold" fill="#1a1a1a" stroke="#1a1a1a" stroke-width="0.18">100000</text>
<line x1="512.90" y1="69.95" x2="516.50" y2="69.95" stroke="#050505" stroke-width="1.1"/>
<text x="511.90" y="72.55" font-size="6.4" text-anchor="end" font-weight="bold" fill="#1a1a1a" stroke="#1a1a1a" stroke-width="0.18">200000</text>
<line x1="512.90" y1="36.57" x2="516.50" y2="36.57" stroke="#050505" stroke-width="1.1"/>
<text x="511.90" y="39.17" font-size="6.4" text-anchor="end" font-weight="bold" fill="#1a1a1a" stroke="#1a1a1a" stroke-width="0.18">300000</text>
<line x1="512.90" y1="3.20" x2="516.50" y2="3.20" stroke="#050505" stroke-width="1.1"/>
<text x="511.90" y="5.80" font-size="6.4" text-anchor="end" font-weight="bold" fill="#1a1a1a" stroke="#1a1a1a" stroke-width="0.18">400000</text>
<line x1="564.20" y1="136.70" x2="564.20" y2="140.70" stroke="#050505" stroke-width="1.1"/>
<text x="564.20" y="147.10" font-size="6.3" text-anchor="middle" font-weight="bold" fill="#1a1a1a" stroke="#1a1a1a" stroke-width="0.18">DRA</text>
<line x1="635.80" y1="136.70" x2="635.80" y2="140.70" stroke="#050505" stroke-width="1.1"/>
<text x="635.80" y="147.10" font-size="6.3" text-anchor="middle" font-weight="bold" fill="#1a1a1a" stroke="#1a1a1a" stroke-width="0.18">TRA</text>
<text x="486.00" y="69.30" font-size="7.0" text-anchor="middle" font-weight="bold" fill="#1a1a1a" stroke="#1a1a1a" stroke-width="0.05" transform="rotate(-90 486.00 69.30)">Radiation dosage,cGy/cm<tspan dy="-2.6" font-size="4.6">2</tspan></text>
<text x="600.05" y="14.50" font-size="6.8" text-anchor="middle" font-weight="bold" fill="#1a1a1a" stroke="#1a1a1a" stroke-width="0.18">P=0.976</text>
<rect x="28.70" y="181.90" width="167.60" height="133.75" fill="#c9ddf6"/>
<circle cx="76.35" cy="302.24" r="0.7" fill="none" stroke="#62a4f4" stroke-width="0.5"/>
<circle cx="76.18" cy="299.35" r="0.7" fill="none" stroke="#62a4f4" stroke-width="0.5"/>
<circle cx="75.13" cy="297.30" r="0.7" fill="none" stroke="#62a4f4" stroke-width="0.5"/>
<circle cx="77.29" cy="297.11" r="0.7" fill="none" stroke="#62a4f4" stroke-width="0.5"/>
<circle cx="79.22" cy="297.83" r="0.7" fill="none" stroke="#62a4f4" stroke-width="0.5"/>
<circle cx="71.80" cy="296.24" r="0.7" fill="none" stroke="#62a4f4" stroke-width="0.5"/>
<circle cx="74.17" cy="295.70" r="0.7" fill="none" stroke="#62a4f4" stroke-width="0.5"/>
<circle cx="76.42" cy="295.77" r="0.7" fill="none" stroke="#62a4f4" stroke-width="0.5"/>
<circle cx="78.59" cy="296.30" r="0.7" fill="none" stroke="#62a4f4" stroke-width="0.5"/>
<circle cx="80.68" cy="296.03" r="0.7" fill="none" stroke="#62a4f4" stroke-width="0.5"/>
<circle cx="72.87" cy="294.85" r="0.7" fill="none" stroke="#62a4f4" stroke-width="0.5"/>
<circle cx="75.43" cy="294.81" r="0.7" fill="none" stroke="#62a4f4" stroke-width="0.5"/>
<circle cx="77.17" cy="294.23" r="0.7" fill="none" stroke="#62a4f4" stroke-width="0.5"/>
<circle cx="79.09" cy="294.34" r="0.7" fill="none" stroke="#62a4f4" stroke-width="0.5"/>
<circle cx="71.70" cy="293.14" r="0.7" fill="none" stroke="#62a4f4" stroke-width="0.5"/>
<circle cx="73.99" cy="293.25" r="0.7" fill="none" stroke="#62a4f4" stroke-width="0.5"/>
<circle cx="76.09" cy="292.98" r="0.7" fill="none" stroke="#62a4f4" stroke-width="0.5"/>
<circle cx="78.03" cy="293.38" r="0.7" fill="none" stroke="#62a4f4" stroke-width="0.5"/>
<circle cx="80.55" cy="293.28" r="0.7" fill="none" stroke="#62a4f4" stroke-width="0.5"/>
<circle cx="71.12" cy="291.39" r="0.7" fill="none" stroke="#62a4f4" stroke-width="0.5"/>
<circle cx="72.76" cy="291.14" r="0.7" fill="none" stroke="#62a4f4" stroke-width="0.5"/>
<circle cx="75.42" cy="291.26" r="0.7" fill="none" stroke="#62a4f4" stroke-width="0.5"/>
<circle cx="77.51" cy="291.85" r="0.7" fill="none" stroke="#62a4f4" stroke-width="0.5"/>
<circle cx="79.26" cy="291.52" r="0.7" fill="none" stroke="#62a4f4" stroke-width="0.5"/>
<circle cx="81.21" cy="291.70" r="0.7" fill="none" stroke="#62a4f4" stroke-width="0.5"/>
<circle cx="70.12" cy="289.63" r="0.7" fill="none" stroke="#62a4f4" stroke-width="0.5"/>
<circle cx="74.00" cy="290.09" r="0.7" fill="none" stroke="#62a4f4" stroke-width="0.5"/>
<circle cx="78.55" cy="290.04" r="0.7" fill="none" stroke="#62a4f4" stroke-width="0.5"/>
<circle cx="80.29" cy="289.74" r="0.7" fill="none" stroke="#62a4f4" stroke-width="0.5"/>
<circle cx="82.29" cy="290.15" r="0.7" fill="none" stroke="#62a4f4" stroke-width="0.5"/>
<circle cx="72.78" cy="288.89" r="0.7" fill="none" stroke="#62a4f4" stroke-width="0.5"/>
<circle cx="75.09" cy="288.29" r="0.7" fill="none" stroke="#62a4f4" stroke-width="0.5"/>
<circle cx="77.45" cy="288.46" r="0.7" fill="none" stroke="#62a4f4" stroke-width="0.5"/>
<circle cx="79.08" cy="288.83" r="0.7" fill="none" stroke="#62a4f4" stroke-width="0.5"/>
<circle cx="81.45" cy="288.77" r="0.7" fill="none" stroke="#62a4f4" stroke-width="0.5"/>
<circle cx="70.04" cy="287.36" r="0.7" fill="none" stroke="#62a4f4" stroke-width="0.5"/>
<circle cx="72.17" cy="286.69" r="0.7" fill="none" stroke="#62a4f4" stroke-width="0.5"/>
<circle cx="73.89" cy="287.28" r="0.7" fill="none" stroke="#62a4f4" stroke-width="0.5"/>
<circle cx="76.17" cy="287.40" r="0.7" fill="none" stroke="#62a4f4" stroke-width="0.5"/>
<circle cx="78.59" cy="286.96" r="0.7" fill="none" stroke="#62a4f4" stroke-width="0.5"/>
<circle cx="80.54" cy="286.98" r="0.7" fill="none" stroke="#62a4f4" stroke-width="0.5"/>
<circle cx="82.44" cy="286.72" r="0.7" fill="none" stroke="#62a4f4" stroke-width="0.5"/>
<circle cx="71.24" cy="285.87" r="0.7" fill="none" stroke="#62a4f4" stroke-width="0.5"/>
<circle cx="73.05" cy="285.37" r="0.7" fill="none" stroke="#62a4f4" stroke-width="0.5"/>
<circle cx="75.01" cy="285.73" r="0.7" fill="none" stroke="#62a4f4" stroke-width="0.5"/>
<circle cx="77.17" cy="285.73" r="0.7" fill="none" stroke="#62a4f4" stroke-width="0.5"/>
<circle cx="79.47" cy="285.63" r="0.7" fill="none" stroke="#62a4f4" stroke-width="0.5"/>
<circle cx="81.37" cy="285.66" r="0.7" fill="none" stroke="#62a4f4" stroke-width="0.5"/>
<circle cx="71.99" cy="284.22" r="0.7" fill="none" stroke="#62a4f4" stroke-width="0.5"/>
<circle cx="73.98" cy="284.36" r="0.7" fill="none" stroke="#62a4f4" stroke-width="0.5"/>
<circle cx="76.25" cy="283.61" r="0.7" fill="none" stroke="#62a4f4" stroke-width="0.5"/>
<circle cx="78.15" cy="284.14" r="0.7" fill="none" stroke="#62a4f4" stroke-width="0.5"/>
<circle cx="80.59" cy="284.12" r="0.7" fill="none" stroke="#62a4f4" stroke-width="0.5"/>
<circle cx="70.86" cy="282.62" r="0.7" fill="none" stroke="#62a4f4" stroke-width="0.5"/>
<circle cx="73.25" cy="282.38" r="0.7" fill="none" stroke="#62a4f4" stroke-width="0.5"/>
<circle cx="75.37" cy="282.65" r="0.7" fill="none" stroke="#62a4f4" stroke-width="0.5"/>
<circle cx="81.47" cy="282.23" r="0.7" fill="none" stroke="#62a4f4" stroke-width="0.5"/>
<circle cx="72.26" cy="280.98" r="0.7" fill="none" stroke="#62a4f4" stroke-width="0.5"/>
<circle cx="74.23" cy="281.18" r="0.7" fill="none" stroke="#62a4f4" stroke-width="0.5"/>
<circle cx="76.37" cy="281.06" r="0.7" fill="none" stroke="#62a4f4" stroke-width="0.5"/>
<circle cx="78.25" cy="281.10" r="0.7" fill="none" stroke="#62a4f4" stroke-width="0.5"/>
<circle cx="80.48" cy="281.18" r="0.7" fill="none" stroke="#62a4f4" stroke-width="0.5"/>
<circle cx="72.85" cy="279.45" r="0.7" fill="none" stroke="#62a4f4" stroke-width="0.5"/>
<circle cx="74.98" cy="279.65" r="0.7" fill="none" stroke="#62a4f4" stroke-width="0.5"/>
<circle cx="76.98" cy="279.48" r="0.7" fill="none" stroke="#62a4f4" stroke-width="0.5"/>
<circle cx="79.08" cy="279.21" r="0.7" fill="none" stroke="#62a4f4" stroke-width="0.5"/>
<circle cx="73.91" cy="277.75" r="0.7" fill="none" stroke="#62a4f4" stroke-width="0.5"/>
<circle cx="76.18" cy="277.90" r="0.7" fill="none" stroke="#62a4f4" stroke-width="0.5"/>
<circle cx="74.99" cy="276.82" r="0.7" fill="none" stroke="#62a4f4" stroke-width="0.5"/>
<circle cx="77.19" cy="276.32" r="0.7" fill="none" stroke="#62a4f4" stroke-width="0.5"/>
<circle cx="54.97" cy="289.53" r="0.7" fill="none" stroke="#62a4f4" stroke-width="0.5"/>
<circle cx="57.02" cy="289.31" r="0.7" fill="none" stroke="#62a4f4" stroke-width="0.5"/>
<circle cx="59.43" cy="289.04" r="0.7" fill="none" stroke="#62a4f4" stroke-width="0.5"/>
<circle cx="61.77" cy="289.52" r="0.7" fill="none" stroke="#62a4f4" stroke-width="0.5"/>
<circle cx="63.79" cy="289.34" r="0.7" fill="none" stroke="#62a4f4" stroke-width="0.5"/>
<circle cx="65.49" cy="289.30" r="0.7" fill="none" stroke="#62a4f4" stroke-width="0.5"/>
<circle cx="68.07" cy="289.67" r="0.7" fill="none" stroke="#62a4f4" stroke-width="0.5"/>
<circle cx="69.81" cy="289.59" r="0.7" fill="none" stroke="#62a4f4" stroke-width="0.5"/>
<circle cx="71.76" cy="289.27" r="0.7" fill="none" stroke="#62a4f4" stroke-width="0.5"/>
<circle cx="73.88" cy="289.33" r="0.7" fill="none" stroke="#62a4f4" stroke-width="0.5"/>
<circle cx="76.13" cy="289.13" r="0.7" fill="none" stroke="#62a4f4" stroke-width="0.5"/>
<circle cx="78.17" cy="289.67" r="0.7" fill="none" stroke="#62a4f4" stroke-width="0.5"/>
<circle cx="80.68" cy="289.61" r="0.7" fill="none" stroke="#62a4f4" stroke-width="0.5"/>
<circle cx="82.36" cy="289.68" r="0.7" fill="none" stroke="#62a4f4" stroke-width="0.5"/>
<circle cx="84.55" cy="289.02" r="0.7" fill="none" stroke="#62a4f4" stroke-width="0.5"/>
<circle cx="88.67" cy="289.18" r="0.7" fill="none" stroke="#62a4f4" stroke-width="0.5"/>
<circle cx="90.97" cy="289.14" r="0.7" fill="none" stroke="#62a4f4" stroke-width="0.5"/>
<circle cx="93.17" cy="289.53" r="0.7" fill="none" stroke="#62a4f4" stroke-width="0.5"/>
<circle cx="95.12" cy="288.97" r="0.7" fill="none" stroke="#62a4f4" stroke-width="0.5"/>
<circle cx="55.05" cy="291.17" r="0.7" fill="none" stroke="#62a4f4" stroke-width="0.5"/>
<circle cx="57.59" cy="291.19" r="0.7" fill="none" stroke="#62a4f4" stroke-width="0.5"/>
<circle cx="59.38" cy="291.54" r="0.7" fill="none" stroke="#62a4f4" stroke-width="0.5"/>
<circle cx="61.65" cy="291.02" r="0.7" fill="none" stroke="#62a4f4" stroke-width="0.5"/>
<circle cx="63.48" cy="291.43" r="0.7" fill="none" stroke="#62a4f4" stroke-width="0.5"/>
<circle cx="65.58" cy="291.43" r="0.7" fill="none" stroke="#62a4f4" stroke-width="0.5"/>
<circle cx="67.72" cy="291.65" r="0.7" fill="none" stroke="#62a4f4" stroke-width="0.5"/>
<circle cx="69.62" cy="291.15" r="0.7" fill="none" stroke="#62a4f4" stroke-width="0.5"/>
<circle cx="72.25" cy="291.79" r="0.7" fill="none" stroke="#62a4f4" stroke-width="0.5"/>
<circle cx="73.81" cy="291.68" r="0.7" fill="none" stroke="#62a4f4" stroke-width="0.5"/>
<circle cx="76.25" cy="291.61" r="0.7" fill="none" stroke="#62a4f4" stroke-width="0.5"/>
<circle cx="78.29" cy="291.81" r="0.7" fill="none" stroke="#62a4f4" stroke-width="0.5"/>
<circle cx="80.34" cy="291.75" r="0.7" fill="none" stroke="#62a4f4" stroke-width="0.5"/>
<circle cx="82.38" cy="291.73" r="0.7" fill="none" stroke="#62a4f4" stroke-width="0.5"/>
<circle cx="84.80" cy="291.59" r="0.7" fill="none" stroke="#62a4f4" stroke-width="0.5"/>
<circle cx="86.57" cy="291.68" r="0.7" fill="none" stroke="#62a4f4" stroke-width="0.5"/>
<circle cx="90.89" cy="291.45" r="0.7" fill="none" stroke="#62a4f4" stroke-width="0.5"/>
<circle cx="92.90" cy="291.05" r="0.7" fill="none" stroke="#62a4f4" stroke-width="0.5"/>
<circle cx="95.29" cy="290.97" r="0.7" fill="none" stroke="#62a4f4" stroke-width="0.5"/>
<circle cx="97.39" cy="291.69" r="0.7" fill="none" stroke="#62a4f4" stroke-width="0.5"/>
<circle cx="76.20" cy="199.80" r="0.7" fill="none" stroke="#62a4f4" stroke-width="0.5"/>
<circle cx="76.20" cy="256.70" r="0.7" fill="none" stroke="#62a4f4" stroke-width="0.5"/>
<circle cx="76.20" cy="262.60" r="0.7" fill="none" stroke="#62a4f4" stroke-width="0.5"/>
<circle cx="76.20" cy="270.10" r="0.7" fill="none" stroke="#62a4f4" stroke-width="0.5"/>
<circle cx="76.20" cy="272.40" r="0.7" fill="none" stroke="#62a4f4" stroke-width="0.5"/>
<circle cx="76.20" cy="304.20" r="0.7" fill="none" stroke="#62a4f4" stroke-width="0.5"/>
<circle cx="74.20" cy="265.90" r="0.7" fill="none" stroke="#62a4f4" stroke-width="0.5"/>
<circle cx="76.20" cy="265.90" r="0.7" fill="none" stroke="#62a4f4" stroke-width="0.5"/>
<circle cx="78.20" cy="265.90" r="0.7" fill="none" stroke="#62a4f4" stroke-width="0.5"/>
<circle cx="148.09" cy="279.39" r="0.7" fill="none" stroke="#f47272" stroke-width="0.5"/>
<circle cx="146.55" cy="278.03" r="0.7" fill="none" stroke="#f47272" stroke-width="0.5"/>
<circle cx="149.11" cy="277.80" r="0.7" fill="none" stroke="#f47272" stroke-width="0.5"/>
<circle cx="148.08" cy="276.58" r="0.7" fill="none" stroke="#f47272" stroke-width="0.5"/>
<circle cx="150.02" cy="276.55" r="0.7" fill="none" stroke="#f47272" stroke-width="0.5"/>
<circle cx="146.88" cy="275.14" r="0.7" fill="none" stroke="#f47272" stroke-width="0.5"/>
<circle cx="149.13" cy="275.05" r="0.7" fill="none" stroke="#f47272" stroke-width="0.5"/>
<circle cx="147.66" cy="273.64" r="0.7" fill="none" stroke="#f47272" stroke-width="0.5"/>
<circle cx="144.51" cy="271.66" r="0.7" fill="none" stroke="#f47272" stroke-width="0.5"/>
<circle cx="146.72" cy="272.26" r="0.7" fill="none" stroke="#f47272" stroke-width="0.5"/>
<circle cx="148.77" cy="272.02" r="0.7" fill="none" stroke="#f47272" stroke-width="0.5"/>
<circle cx="151.31" cy="272.23" r="0.7" fill="none" stroke="#f47272" stroke-width="0.5"/>
<circle cx="143.79" cy="270.56" r="0.7" fill="none" stroke="#f47272" stroke-width="0.5"/>
<circle cx="146.09" cy="270.02" r="0.7" fill="none" stroke="#f47272" stroke-width="0.5"/>
<circle cx="147.96" cy="270.24" r="0.7" fill="none" stroke="#f47272" stroke-width="0.5"/>
<circle cx="149.75" cy="270.70" r="0.7" fill="none" stroke="#f47272" stroke-width="0.5"/>
<circle cx="151.87" cy="270.53" r="0.7" fill="none" stroke="#f47272" stroke-width="0.5"/>
<circle cx="140.37" cy="268.89" r="0.7" fill="none" stroke="#f47272" stroke-width="0.5"/>
<circle cx="142.48" cy="269.19" r="0.7" fill="none" stroke="#f47272" stroke-width="0.5"/>
<circle cx="144.46" cy="269.12" r="0.7" fill="none" stroke="#f47272" stroke-width="0.5"/>
<circle cx="146.75" cy="269.22" r="0.7" fill="none" stroke="#f47272" stroke-width="0.5"/>
<circle cx="148.83" cy="268.80" r="0.7" fill="none" stroke="#f47272" stroke-width="0.5"/>
<circle cx="150.83" cy="269.30" r="0.7" fill="none" stroke="#f47272" stroke-width="0.5"/>
<circle cx="153.10" cy="269.10" r="0.7" fill="none" stroke="#f47272" stroke-width="0.5"/>
<circle cx="155.54" cy="268.70" r="0.7" fill="none" stroke="#f47272" stroke-width="0.5"/>
<circle cx="141.83" cy="267.36" r="0.7" fill="none" stroke="#f47272" stroke-width="0.5"/>
<circle cx="143.88" cy="267.41" r="0.7" fill="none" stroke="#f47272" stroke-width="0.5"/>
<circle cx="145.92" cy="267.33" r="0.7" fill="none" stroke="#f47272" stroke-width="0.5"/>
<circle cx="148.05" cy="267.21" r="0.7" fill="none" stroke="#f47272" stroke-width="0.5"/>
<circle cx="150.17" cy="267.14" r="0.7" fill="none" stroke="#f47272" stroke-width="0.5"/>
<circle cx="151.87" cy="267.47" r="0.7" fill="none" stroke="#f47272" stroke-width="0.5"/>
<circle cx="154.05" cy="267.36" r="0.7" fill="none" stroke="#f47272" stroke-width="0.5"/>
<circle cx="158.35" cy="267.70" r="0.7" fill="none" stroke="#f47272" stroke-width="0.5"/>
<circle cx="136.21" cy="265.88" r="0.7" fill="none" stroke="#f47272" stroke-width="0.5"/>
<circle cx="138.24" cy="265.80" r="0.7" fill="none" stroke="#f47272" stroke-width="0.5"/>
<circle cx="140.73" cy="265.76" r="0.7" fill="none" stroke="#f47272" stroke-width="0.5"/>
<circle cx="142.93" cy="266.24" r="0.7" fill="none" stroke="#f47272" stroke-width="0.5"/>
<circle cx="144.81" cy="265.76" r="0.7" fill="none" stroke="#f47272" stroke-width="0.5"/>
<circle cx="146.84" cy="266.13" r="0.7" fill="none" stroke="#f47272" stroke-width="0.5"/>
<circle cx="150.75" cy="265.86" r="0.7" fill="none" stroke="#f47272" stroke-width="0.5"/>
<circle cx="152.87" cy="266.12" r="0.7" fill="none" stroke="#f47272" stroke-width="0.5"/>
<circle cx="155.38" cy="265.79" r="0.7" fill="none" stroke="#f47272" stroke-width="0.5"/>
<circle cx="135.12" cy="264.76" r="0.7" fill="none" stroke="#f47272" stroke-width="0.5"/>
<circle cx="137.35" cy="264.63" r="0.7" fill="none" stroke="#f47272" stroke-width="0.5"/>
<circle cx="139.50" cy="264.38" r="0.7" fill="none" stroke="#f47272" stroke-width="0.5"/>
<circle cx="141.52" cy="264.12" r="0.7" fill="none" stroke="#f47272" stroke-width="0.5"/>
<circle cx="143.76" cy="264.12" r="0.7" fill="none" stroke="#f47272" stroke-width="0.5"/>
<circle cx="145.56" cy="264.08" r="0.7" fill="none" stroke="#f47272" stroke-width="0.5"/>
<circle cx="147.88" cy="264.72" r="0.7" fill="none" stroke="#f47272" stroke-width="0.5"/>
<circle cx="150.12" cy="264.10" r="0.7" fill="none" stroke="#f47272" stroke-width="0.5"/>
<circle cx="151.85" cy="264.49" r="0.7" fill="none" stroke="#f47272" stroke-width="0.5"/>
<circle cx="160.62" cy="264.63" r="0.7" fill="none" stroke="#f47272" stroke-width="0.5"/>
<circle cx="138.72" cy="263.23" r="0.7" fill="none" stroke="#f47272" stroke-width="0.5"/>
<circle cx="140.72" cy="262.86" r="0.7" fill="none" stroke="#f47272" stroke-width="0.5"/>
<circle cx="142.78" cy="262.55" r="0.7" fill="none" stroke="#f47272" stroke-width="0.5"/>
<circle cx="145.04" cy="262.73" r="0.7" fill="none" stroke="#f47272" stroke-width="0.5"/>
<circle cx="149.16" cy="262.72" r="0.7" fill="none" stroke="#f47272" stroke-width="0.5"/>
<circle cx="153.40" cy="262.53" r="0.7" fill="none" stroke="#f47272" stroke-width="0.5"/>
<circle cx="155.44" cy="263.01" r="0.7" fill="none" stroke="#f47272" stroke-width="0.5"/>
<circle cx="157.07" cy="262.64" r="0.7" fill="none" stroke="#f47272" stroke-width="0.5"/>
<circle cx="141.33" cy="261.79" r="0.7" fill="none" stroke="#f47272" stroke-width="0.5"/>
<circle cx="143.97" cy="261.56" r="0.7" fill="none" stroke="#f47272" stroke-width="0.5"/>
<circle cx="145.55" cy="261.59" r="0.7" fill="none" stroke="#f47272" stroke-width="0.5"/>
<circle cx="147.93" cy="261.37" r="0.7" fill="none" stroke="#f47272" stroke-width="0.5"/>
<circle cx="149.75" cy="261.06" r="0.7" fill="none" stroke="#f47272" stroke-width="0.5"/>
<circle cx="151.82" cy="261.42" r="0.7" fill="none" stroke="#f47272" stroke-width="0.5"/>
<circle cx="154.07" cy="261.12" r="0.7" fill="none" stroke="#f47272" stroke-width="0.5"/>
<circle cx="144.68" cy="259.68" r="0.7" fill="none" stroke="#f47272" stroke-width="0.5"/>
<circle cx="146.89" cy="260.23" r="0.7" fill="none" stroke="#f47272" stroke-width="0.5"/>
<circle cx="148.75" cy="259.75" r="0.7" fill="none" stroke="#f47272" stroke-width="0.5"/>
<circle cx="151.09" cy="260.13" r="0.7" fill="none" stroke="#f47272" stroke-width="0.5"/>
<circle cx="145.61" cy="258.26" r="0.7" fill="none" stroke="#f47272" stroke-width="0.5"/>
<circle cx="147.86" cy="258.32" r="0.7" fill="none" stroke="#f47272" stroke-width="0.5"/>
<circle cx="148.00" cy="257.07" r="0.7" fill="none" stroke="#f47272" stroke-width="0.5"/>
<circle cx="148.08" cy="255.30" r="0.7" fill="none" stroke="#f47272" stroke-width="0.5"/>
<circle cx="127.18" cy="264.56" r="0.7" fill="none" stroke="#f47272" stroke-width="0.5"/>
<circle cx="128.93" cy="264.46" r="0.7" fill="none" stroke="#f47272" stroke-width="0.5"/>
<circle cx="131.26" cy="264.51" r="0.7" fill="none" stroke="#f47272" stroke-width="0.5"/>
<circle cx="132.96" cy="264.77" r="0.7" fill="none" stroke="#f47272" stroke-width="0.5"/>
<circle cx="135.33" cy="265.19" r="0.7" fill="none" stroke="#f47272" stroke-width="0.5"/>
<circle cx="137.44" cy="265.32" r="0.7" fill="none" stroke="#f47272" stroke-width="0.5"/>
<circle cx="139.48" cy="265.12" r="0.7" fill="none" stroke="#f47272" stroke-width="0.5"/>
<circle cx="141.40" cy="265.06" r="0.7" fill="none" stroke="#f47272" stroke-width="0.5"/>
<circle cx="143.47" cy="265.38" r="0.7" fill="none" stroke="#f47272" stroke-width="0.5"/>
<circle cx="146.05" cy="265.15" r="0.7" fill="none" stroke="#f47272" stroke-width="0.5"/>
<circle cx="148.04" cy="265.05" r="0.7" fill="none" stroke="#f47272" stroke-width="0.5"/>
<circle cx="149.97" cy="264.60" r="0.7" fill="none" stroke="#f47272" stroke-width="0.5"/>
<circle cx="152.27" cy="265.19" r="0.7" fill="none" stroke="#f47272" stroke-width="0.5"/>
<circle cx="154.26" cy="264.65" r="0.7" fill="none" stroke="#f47272" stroke-width="0.5"/>
<circle cx="156.45" cy="265.40" r="0.7" fill="none" stroke="#f47272" stroke-width="0.5"/>
<circle cx="158.51" cy="265.18" r="0.7" fill="none" stroke="#f47272" stroke-width="0.5"/>
<circle cx="160.56" cy="264.43" r="0.7" fill="none" stroke="#f47272" stroke-width="0.5"/>
<circle cx="162.37" cy="265.35" r="0.7" fill="none" stroke="#f47272" stroke-width="0.5"/>
<circle cx="164.95" cy="265.35" r="0.7" fill="none" stroke="#f47272" stroke-width="0.5"/>
<circle cx="167.00" cy="264.45" r="0.7" fill="none" stroke="#f47272" stroke-width="0.5"/>
<circle cx="168.61" cy="264.47" r="0.7" fill="none" stroke="#f47272" stroke-width="0.5"/>
<circle cx="127.10" cy="266.69" r="0.7" fill="none" stroke="#f47272" stroke-width="0.5"/>
<circle cx="128.86" cy="266.73" r="0.7" fill="none" stroke="#f47272" stroke-width="0.5"/>
<circle cx="130.91" cy="267.58" r="0.7" fill="none" stroke="#f47272" stroke-width="0.5"/>
<circle cx="133.26" cy="267.16" r="0.7" fill="none" stroke="#f47272" stroke-width="0.5"/>
<circle cx="135.29" cy="266.87" r="0.7" fill="none" stroke="#f47272" stroke-width="0.5"/>
<circle cx="137.63" cy="266.79" r="0.7" fill="none" stroke="#f47272" stroke-width="0.5"/>
<circle cx="139.69" cy="267.18" r="0.7" fill="none" stroke="#f47272" stroke-width="0.5"/>
<circle cx="143.71" cy="266.72" r="0.7" fill="none" stroke="#f47272" stroke-width="0.5"/>
<circle cx="145.78" cy="267.46" r="0.7" fill="none" stroke="#f47272" stroke-width="0.5"/>
<circle cx="148.02" cy="267.41" r="0.7" fill="none" stroke="#f47272" stroke-width="0.5"/>
<circle cx="150.21" cy="267.50" r="0.7" fill="none" stroke="#f47272" stroke-width="0.5"/>
<circle cx="152.35" cy="267.47" r="0.7" fill="none" stroke="#f47272" stroke-width="0.5"/>
<circle cx="154.10" cy="266.85" r="0.7" fill="none" stroke="#f47272" stroke-width="0.5"/>
<circle cx="156.22" cy="267.46" r="0.7" fill="none" stroke="#f47272" stroke-width="0.5"/>
<circle cx="158.10" cy="266.90" r="0.7" fill="none" stroke="#f47272" stroke-width="0.5"/>
<circle cx="160.57" cy="267.37" r="0.7" fill="none" stroke="#f47272" stroke-width="0.5"/>
<circle cx="164.63" cy="266.73" r="0.7" fill="none" stroke="#f47272" stroke-width="0.5"/>
<circle cx="168.91" cy="267.55" r="0.7" fill="none" stroke="#f47272" stroke-width="0.5"/>
<circle cx="147.90" cy="219.00" r="0.7" fill="none" stroke="#f47272" stroke-width="0.5"/>
<circle cx="147.90" cy="227.10" r="0.7" fill="none" stroke="#f47272" stroke-width="0.5"/>
<circle cx="147.90" cy="231.00" r="0.7" fill="none" stroke="#f47272" stroke-width="0.5"/>
<circle cx="147.90" cy="241.30" r="0.7" fill="none" stroke="#f47272" stroke-width="0.5"/>
<circle cx="147.90" cy="244.30" r="0.7" fill="none" stroke="#f47272" stroke-width="0.5"/>
<circle cx="147.90" cy="248.90" r="0.7" fill="none" stroke="#f47272" stroke-width="0.5"/>
<circle cx="147.90" cy="283.00" r="0.7" fill="none" stroke="#f47272" stroke-width="0.5"/>
<circle cx="147.90" cy="287.20" r="0.7" fill="none" stroke="#f47272" stroke-width="0.5"/>
<circle cx="147.90" cy="294.30" r="0.7" fill="none" stroke="#f47272" stroke-width="0.5"/>
<circle cx="147.90" cy="304.10" r="0.7" fill="none" stroke="#f47272" stroke-width="0.5"/>
<circle cx="147.90" cy="306.50" r="0.7" fill="none" stroke="#f47272" stroke-width="0.5"/>
<circle cx="146.90" cy="289.70" r="0.7" fill="none" stroke="#f47272" stroke-width="0.5"/>
<circle cx="148.90" cy="289.70" r="0.7" fill="none" stroke="#f47272" stroke-width="0.5"/>
<line x1="52.80" y1="290.40" x2="100.30" y2="290.40" stroke="#6e76f2" stroke-width="1.25"/>
<line x1="124.30" y1="266.00" x2="171.80" y2="266.00" stroke="#f4464a" stroke-width="1.25"/>
<path d="M28.70 181.90 V315.65 H196.60" fill="none" stroke="#050505" stroke-width="1.3"/>
<line x1="25.10" y1="315.65" x2="28.70" y2="315.65" stroke="#050505" stroke-width="1.1"/>
<text x="24.10" y="318.25" font-size="6.4" text-anchor="end" font-weight="bold" fill="#1a1a1a" stroke="#1a1a1a" stroke-width="0.18">0</text>
<line x1="25.10" y1="288.90" x2="28.70" y2="288.90" stroke="#050505" stroke-width="1.1"/>
<text x="24.10" y="291.50" font-size="6.4" text-anchor="end" font-weight="bold" fill="#1a1a1a" stroke="#1a1a1a" stroke-width="0.18">200</text>
<line x1="25.10" y1="262.15" x2="28.70" y2="262.15" stroke="#050505" stroke-width="1.1"/>
<text x="24.10" y="264.75" font-size="6.4" text-anchor="end" font-weight="bold" fill="#1a1a1a" stroke="#1a1a1a" stroke-width="0.18">400</text>
<line x1="25.10" y1="235.40" x2="28.70" y2="235.40" stroke="#050505" stroke-width="1.1"/>
<text x="24.10" y="238.00" font-size="6.4" text-anchor="end" font-weight="bold" fill="#1a1a1a" stroke="#1a1a1a" stroke-width="0.18">600</text>
<line x1="25.10" y1="208.65" x2="28.70" y2="208.65" stroke="#050505" stroke-width="1.1"/>
<text x="24.10" y="211.25" font-size="6.4" text-anchor="end" font-weight="bold" fill="#1a1a1a" stroke="#1a1a1a" stroke-width="0.18">800</text>
<line x1="25.10" y1="181.90" x2="28.70" y2="181.90" stroke="#050505" stroke-width="1.1"/>
<text x="24.10" y="184.50" font-size="6.4" text-anchor="end" font-weight="bold" fill="#1a1a1a" stroke="#1a1a1a" stroke-width="0.18">1000</text>
<line x1="76.40" y1="315.65" x2="76.40" y2="319.65" stroke="#050505" stroke-width="1.1"/>
<text x="76.40" y="326.45" font-size="6.3" text-anchor="middle" font-weight="bold" fill="#1a1a1a" stroke="#1a1a1a" stroke-width="0.18">DRA</text>
<line x1="148.00" y1="315.65" x2="148.00" y2="319.65" stroke="#050505" stroke-width="1.1"/>
<text x="148.00" y="326.45" font-size="6.3" text-anchor="middle" font-weight="bold" fill="#1a1a1a" stroke="#1a1a1a" stroke-width="0.18">TRA</text>
<text x="5.90" y="248.85" font-size="7.0" text-anchor="middle" font-weight="bold" fill="#1a1a1a" stroke="#1a1a1a" stroke-width="0.05" transform="rotate(-90 5.90 248.85)">Hemostasis time,min</text>
<text x="107.35" y="193.85" font-size="6.8" text-anchor="middle" font-weight="bold" fill="#1a1a1a" stroke="#1a1a1a" stroke-width="0.18">P&lt;0.001</text>
<rect x="269.70" y="181.90" width="167.80" height="133.75" fill="#c9ddf6"/>
<circle cx="317.19" cy="309.82" r="0.55" fill="none" stroke="#5a9cf2" stroke-width="0.42"/>
<circle cx="315.12" cy="307.89" r="0.55" fill="none" stroke="#5a9cf2" stroke-width="0.42"/>
<circle cx="317.40" cy="307.63" r="0.55" fill="none" stroke="#5a9cf2" stroke-width="0.42"/>
<circle cx="319.44" cy="307.67" r="0.55" fill="none" stroke="#5a9cf2" stroke-width="0.42"/>
<circle cx="315.30" cy="306.00" r="0.55" fill="none" stroke="#5a9cf2" stroke-width="0.42"/>
<circle cx="317.48" cy="306.66" r="0.55" fill="none" stroke="#5a9cf2" stroke-width="0.42"/>
<circle cx="319.64" cy="306.68" r="0.55" fill="none" stroke="#5a9cf2" stroke-width="0.42"/>
<circle cx="313.02" cy="304.43" r="0.55" fill="none" stroke="#5a9cf2" stroke-width="0.42"/>
<circle cx="314.87" cy="304.45" r="0.55" fill="none" stroke="#5a9cf2" stroke-width="0.42"/>
<circle cx="319.75" cy="304.71" r="0.55" fill="none" stroke="#5a9cf2" stroke-width="0.42"/>
<circle cx="322.03" cy="304.25" r="0.55" fill="none" stroke="#5a9cf2" stroke-width="0.42"/>
<circle cx="310.32" cy="303.04" r="0.55" fill="none" stroke="#5a9cf2" stroke-width="0.42"/>
<circle cx="312.69" cy="302.97" r="0.55" fill="none" stroke="#5a9cf2" stroke-width="0.42"/>
<circle cx="314.98" cy="303.14" r="0.55" fill="none" stroke="#5a9cf2" stroke-width="0.42"/>
<circle cx="317.25" cy="302.96" r="0.55" fill="none" stroke="#5a9cf2" stroke-width="0.42"/>
<circle cx="319.93" cy="303.08" r="0.55" fill="none" stroke="#5a9cf2" stroke-width="0.42"/>
<circle cx="322.29" cy="302.59" r="0.55" fill="none" stroke="#5a9cf2" stroke-width="0.42"/>
<circle cx="324.45" cy="302.62" r="0.55" fill="none" stroke="#5a9cf2" stroke-width="0.42"/>
<circle cx="310.22" cy="301.33" r="0.55" fill="none" stroke="#5a9cf2" stroke-width="0.42"/>
<circle cx="315.33" cy="301.05" r="0.55" fill="none" stroke="#5a9cf2" stroke-width="0.42"/>
<circle cx="317.46" cy="301.26" r="0.55" fill="none" stroke="#5a9cf2" stroke-width="0.42"/>
<circle cx="319.90" cy="301.56" r="0.55" fill="none" stroke="#5a9cf2" stroke-width="0.42"/>
<circle cx="322.10" cy="300.85" r="0.55" fill="none" stroke="#5a9cf2" stroke-width="0.42"/>
<circle cx="324.39" cy="301.59" r="0.55" fill="none" stroke="#5a9cf2" stroke-width="0.42"/>
<circle cx="310.43" cy="299.63" r="0.55" fill="none" stroke="#5a9cf2" stroke-width="0.42"/>
<circle cx="312.78" cy="299.23" r="0.55" fill="none" stroke="#5a9cf2" stroke-width="0.42"/>
<circle cx="314.84" cy="299.71" r="0.55" fill="none" stroke="#5a9cf2" stroke-width="0.42"/>
<circle cx="317.25" cy="299.41" r="0.55" fill="none" stroke="#5a9cf2" stroke-width="0.42"/>
<circle cx="321.97" cy="299.54" r="0.55" fill="none" stroke="#5a9cf2" stroke-width="0.42"/>
<circle cx="310.45" cy="297.69" r="0.55" fill="none" stroke="#5a9cf2" stroke-width="0.42"/>
<circle cx="317.21" cy="297.59" r="0.55" fill="none" stroke="#5a9cf2" stroke-width="0.42"/>
<circle cx="319.69" cy="297.87" r="0.55" fill="none" stroke="#5a9cf2" stroke-width="0.42"/>
<circle cx="321.70" cy="297.74" r="0.55" fill="none" stroke="#5a9cf2" stroke-width="0.42"/>
<circle cx="324.34" cy="298.16" r="0.55" fill="none" stroke="#5a9cf2" stroke-width="0.42"/>
<circle cx="326.61" cy="297.89" r="0.55" fill="none" stroke="#5a9cf2" stroke-width="0.42"/>
<circle cx="307.93" cy="296.42" r="0.55" fill="none" stroke="#5a9cf2" stroke-width="0.42"/>
<circle cx="317.34" cy="295.78" r="0.55" fill="none" stroke="#5a9cf2" stroke-width="0.42"/>
<circle cx="319.44" cy="295.75" r="0.55" fill="none" stroke="#5a9cf2" stroke-width="0.42"/>
<circle cx="321.80" cy="295.97" r="0.55" fill="none" stroke="#5a9cf2" stroke-width="0.42"/>
<circle cx="324.00" cy="295.82" r="0.55" fill="none" stroke="#5a9cf2" stroke-width="0.42"/>
<circle cx="326.52" cy="295.72" r="0.55" fill="none" stroke="#5a9cf2" stroke-width="0.42"/>
<circle cx="310.29" cy="294.20" r="0.55" fill="none" stroke="#5a9cf2" stroke-width="0.42"/>
<circle cx="312.72" cy="294.10" r="0.55" fill="none" stroke="#5a9cf2" stroke-width="0.42"/>
<circle cx="319.69" cy="294.07" r="0.55" fill="none" stroke="#5a9cf2" stroke-width="0.42"/>
<circle cx="321.91" cy="294.21" r="0.55" fill="none" stroke="#5a9cf2" stroke-width="0.42"/>
<circle cx="326.31" cy="294.76" r="0.55" fill="none" stroke="#5a9cf2" stroke-width="0.42"/>
<circle cx="307.99" cy="292.73" r="0.55" fill="none" stroke="#5a9cf2" stroke-width="0.42"/>
<circle cx="310.52" cy="293.08" r="0.55" fill="none" stroke="#5a9cf2" stroke-width="0.42"/>
<circle cx="314.96" cy="292.59" r="0.55" fill="none" stroke="#5a9cf2" stroke-width="0.42"/>
<circle cx="317.56" cy="292.73" r="0.55" fill="none" stroke="#5a9cf2" stroke-width="0.42"/>
<circle cx="321.83" cy="292.95" r="0.55" fill="none" stroke="#5a9cf2" stroke-width="0.42"/>
<circle cx="312.64" cy="291.01" r="0.55" fill="none" stroke="#5a9cf2" stroke-width="0.42"/>
<circle cx="314.82" cy="290.62" r="0.55" fill="none" stroke="#5a9cf2" stroke-width="0.42"/>
<circle cx="317.26" cy="291.15" r="0.55" fill="none" stroke="#5a9cf2" stroke-width="0.42"/>
<circle cx="322.26" cy="291.39" r="0.55" fill="none" stroke="#5a9cf2" stroke-width="0.42"/>
<circle cx="326.43" cy="290.78" r="0.55" fill="none" stroke="#5a9cf2" stroke-width="0.42"/>
<circle cx="308.02" cy="289.40" r="0.55" fill="none" stroke="#5a9cf2" stroke-width="0.42"/>
<circle cx="315.19" cy="289.54" r="0.55" fill="none" stroke="#5a9cf2" stroke-width="0.42"/>
<circle cx="317.50" cy="289.63" r="0.55" fill="none" stroke="#5a9cf2" stroke-width="0.42"/>
<circle cx="324.11" cy="289.53" r="0.55" fill="none" stroke="#5a9cf2" stroke-width="0.42"/>
<circle cx="326.78" cy="289.68" r="0.55" fill="none" stroke="#5a9cf2" stroke-width="0.42"/>
<circle cx="308.14" cy="287.96" r="0.55" fill="none" stroke="#5a9cf2" stroke-width="0.42"/>
<circle cx="310.30" cy="287.30" r="0.55" fill="none" stroke="#5a9cf2" stroke-width="0.42"/>
<circle cx="313.04" cy="287.85" r="0.55" fill="none" stroke="#5a9cf2" stroke-width="0.42"/>
<circle cx="315.30" cy="287.98" r="0.55" fill="none" stroke="#5a9cf2" stroke-width="0.42"/>
<circle cx="317.31" cy="287.64" r="0.55" fill="none" stroke="#5a9cf2" stroke-width="0.42"/>
<circle cx="319.41" cy="287.98" r="0.55" fill="none" stroke="#5a9cf2" stroke-width="0.42"/>
<circle cx="322.02" cy="287.95" r="0.55" fill="none" stroke="#5a9cf2" stroke-width="0.42"/>
<circle cx="324.52" cy="287.86" r="0.55" fill="none" stroke="#5a9cf2" stroke-width="0.42"/>
<circle cx="326.45" cy="287.43" r="0.55" fill="none" stroke="#5a9cf2" stroke-width="0.42"/>
<circle cx="310.55" cy="285.71" r="0.55" fill="none" stroke="#5a9cf2" stroke-width="0.42"/>
<circle cx="312.58" cy="286.23" r="0.55" fill="none" stroke="#5a9cf2" stroke-width="0.42"/>
<circle cx="315.07" cy="285.97" r="0.55" fill="none" stroke="#5a9cf2" stroke-width="0.42"/>
<circle cx="319.95" cy="285.90" r="0.55" fill="none" stroke="#5a9cf2" stroke-width="0.42"/>
<circle cx="322.01" cy="285.51" r="0.55" fill="none" stroke="#5a9cf2" stroke-width="0.42"/>
<circle cx="324.11" cy="285.50" r="0.55" fill="none" stroke="#5a9cf2" stroke-width="0.42"/>
<circle cx="312.78" cy="284.38" r="0.55" fill="none" stroke="#5a9cf2" stroke-width="0.42"/>
<circle cx="315.00" cy="284.21" r="0.55" fill="none" stroke="#5a9cf2" stroke-width="0.42"/>
<circle cx="317.57" cy="283.88" r="0.55" fill="none" stroke="#5a9cf2" stroke-width="0.42"/>
<circle cx="319.55" cy="284.02" r="0.55" fill="none" stroke="#5a9cf2" stroke-width="0.42"/>
<circle cx="324.34" cy="284.41" r="0.55" fill="none" stroke="#5a9cf2" stroke-width="0.42"/>
<circle cx="312.87" cy="282.50" r="0.55" fill="none" stroke="#5a9cf2" stroke-width="0.42"/>
<circle cx="315.22" cy="282.46" r="0.55" fill="none" stroke="#5a9cf2" stroke-width="0.42"/>
<circle cx="317.39" cy="282.85" r="0.55" fill="none" stroke="#5a9cf2" stroke-width="0.42"/>
<circle cx="319.93" cy="282.85" r="0.55" fill="none" stroke="#5a9cf2" stroke-width="0.42"/>
<circle cx="322.04" cy="282.85" r="0.55" fill="none" stroke="#5a9cf2" stroke-width="0.42"/>
<circle cx="310.27" cy="280.75" r="0.55" fill="none" stroke="#5a9cf2" stroke-width="0.42"/>
<circle cx="312.64" cy="280.46" r="0.55" fill="none" stroke="#5a9cf2" stroke-width="0.42"/>
<circle cx="315.27" cy="281.12" r="0.55" fill="none" stroke="#5a9cf2" stroke-width="0.42"/>
<circle cx="317.53" cy="280.93" r="0.55" fill="none" stroke="#5a9cf2" stroke-width="0.42"/>
<circle cx="319.93" cy="281.17" r="0.55" fill="none" stroke="#5a9cf2" stroke-width="0.42"/>
<circle cx="322.27" cy="280.72" r="0.55" fill="none" stroke="#5a9cf2" stroke-width="0.42"/>
<circle cx="324.59" cy="281.07" r="0.55" fill="none" stroke="#5a9cf2" stroke-width="0.42"/>
<circle cx="312.76" cy="279.11" r="0.55" fill="none" stroke="#5a9cf2" stroke-width="0.42"/>
<circle cx="314.92" cy="278.95" r="0.55" fill="none" stroke="#5a9cf2" stroke-width="0.42"/>
<circle cx="317.11" cy="279.14" r="0.55" fill="none" stroke="#5a9cf2" stroke-width="0.42"/>
<circle cx="319.41" cy="278.97" r="0.55" fill="none" stroke="#5a9cf2" stroke-width="0.42"/>
<circle cx="322.01" cy="278.75" r="0.55" fill="none" stroke="#5a9cf2" stroke-width="0.42"/>
<circle cx="319.56" cy="277.03" r="0.55" fill="none" stroke="#5a9cf2" stroke-width="0.42"/>
<circle cx="314.88" cy="275.64" r="0.55" fill="none" stroke="#5a9cf2" stroke-width="0.42"/>
<circle cx="314.89" cy="274.34" r="0.55" fill="none" stroke="#5a9cf2" stroke-width="0.42"/>
<circle cx="317.52" cy="273.67" r="0.55" fill="none" stroke="#5a9cf2" stroke-width="0.42"/>
<circle cx="319.81" cy="273.94" r="0.55" fill="none" stroke="#5a9cf2" stroke-width="0.42"/>
<circle cx="315.36" cy="272.41" r="0.55" fill="none" stroke="#5a9cf2" stroke-width="0.42"/>
<circle cx="319.91" cy="271.95" r="0.55" fill="none" stroke="#5a9cf2" stroke-width="0.42"/>
<circle cx="317.30" cy="270.64" r="0.55" fill="none" stroke="#5a9cf2" stroke-width="0.42"/>
<circle cx="317.18" cy="268.92" r="0.55" fill="none" stroke="#5a9cf2" stroke-width="0.42"/>
<circle cx="317.40" cy="189.60" r="0.55" fill="none" stroke="#5a9cf2" stroke-width="0.42"/>
<circle cx="317.40" cy="192.20" r="0.55" fill="none" stroke="#5a9cf2" stroke-width="0.42"/>
<circle cx="317.40" cy="195.00" r="0.55" fill="none" stroke="#5a9cf2" stroke-width="0.42"/>
<circle cx="317.40" cy="219.60" r="0.55" fill="none" stroke="#5a9cf2" stroke-width="0.42"/>
<circle cx="317.40" cy="222.80" r="0.55" fill="none" stroke="#5a9cf2" stroke-width="0.42"/>
<circle cx="317.40" cy="230.40" r="0.55" fill="none" stroke="#5a9cf2" stroke-width="0.42"/>
<circle cx="317.40" cy="234.50" r="0.55" fill="none" stroke="#5a9cf2" stroke-width="0.42"/>
<circle cx="317.40" cy="237.20" r="0.55" fill="none" stroke="#5a9cf2" stroke-width="0.42"/>
<circle cx="317.40" cy="240.70" r="0.55" fill="none" stroke="#5a9cf2" stroke-width="0.42"/>
<circle cx="317.40" cy="247.60" r="0.55" fill="none" stroke="#5a9cf2" stroke-width="0.42"/>
<circle cx="317.40" cy="257.10" r="0.55" fill="none" stroke="#5a9cf2" stroke-width="0.42"/>
<circle cx="317.40" cy="264.00" r="0.55" fill="none" stroke="#5a9cf2" stroke-width="0.42"/>
<circle cx="317.40" cy="266.30" r="0.55" fill="none" stroke="#5a9cf2" stroke-width="0.42"/>
<circle cx="316.40" cy="239.50" r="0.55" fill="none" stroke="#5a9cf2" stroke-width="0.42"/>
<circle cx="318.40" cy="239.50" r="0.55" fill="none" stroke="#5a9cf2" stroke-width="0.42"/>
<circle cx="316.20" cy="250.20" r="0.55" fill="none" stroke="#5a9cf2" stroke-width="0.42"/>
<circle cx="318.60" cy="250.20" r="0.55" fill="none" stroke="#5a9cf2" stroke-width="0.42"/>
<circle cx="315.90" cy="255.60" r="0.55" fill="none" stroke="#5a9cf2" stroke-width="0.42"/>
<circle cx="318.90" cy="255.60" r="0.55" fill="none" stroke="#5a9cf2" stroke-width="0.42"/>
<circle cx="315.40" cy="261.70" r="0.55" fill="none" stroke="#5a9cf2" stroke-width="0.42"/>
<circle cx="317.40" cy="261.70" r="0.55" fill="none" stroke="#5a9cf2" stroke-width="0.42"/>
<circle cx="319.40" cy="261.70" r="0.55" fill="none" stroke="#5a9cf2" stroke-width="0.42"/>
<circle cx="389.58" cy="308.70" r="0.55" fill="none" stroke="#f26c6c" stroke-width="0.42"/>
<circle cx="389.05" cy="307.10" r="0.55" fill="none" stroke="#f26c6c" stroke-width="0.42"/>
<circle cx="389.39" cy="305.57" r="0.55" fill="none" stroke="#f26c6c" stroke-width="0.42"/>
<circle cx="391.60" cy="305.35" r="0.55" fill="none" stroke="#f26c6c" stroke-width="0.42"/>
<circle cx="389.14" cy="303.52" r="0.55" fill="none" stroke="#f26c6c" stroke-width="0.42"/>
<circle cx="391.54" cy="304.22" r="0.55" fill="none" stroke="#f26c6c" stroke-width="0.42"/>
<circle cx="384.47" cy="302.01" r="0.55" fill="none" stroke="#f26c6c" stroke-width="0.42"/>
<circle cx="389.37" cy="302.10" r="0.55" fill="none" stroke="#f26c6c" stroke-width="0.42"/>
<circle cx="391.50" cy="302.35" r="0.55" fill="none" stroke="#f26c6c" stroke-width="0.42"/>
<circle cx="393.99" cy="302.52" r="0.55" fill="none" stroke="#f26c6c" stroke-width="0.42"/>
<circle cx="382.19" cy="300.15" r="0.55" fill="none" stroke="#f26c6c" stroke-width="0.42"/>
<circle cx="386.82" cy="300.86" r="0.55" fill="none" stroke="#f26c6c" stroke-width="0.42"/>
<circle cx="389.44" cy="300.80" r="0.55" fill="none" stroke="#f26c6c" stroke-width="0.42"/>
<circle cx="391.51" cy="300.80" r="0.55" fill="none" stroke="#f26c6c" stroke-width="0.42"/>
<circle cx="394.06" cy="300.18" r="0.55" fill="none" stroke="#f26c6c" stroke-width="0.42"/>
<circle cx="396.32" cy="300.86" r="0.55" fill="none" stroke="#f26c6c" stroke-width="0.42"/>
<circle cx="384.52" cy="298.52" r="0.55" fill="none" stroke="#f26c6c" stroke-width="0.42"/>
<circle cx="387.01" cy="298.46" r="0.55" fill="none" stroke="#f26c6c" stroke-width="0.42"/>
<circle cx="391.72" cy="298.58" r="0.55" fill="none" stroke="#f26c6c" stroke-width="0.42"/>
<circle cx="393.61" cy="298.67" r="0.55" fill="none" stroke="#f26c6c" stroke-width="0.42"/>
<circle cx="396.15" cy="298.70" r="0.55" fill="none" stroke="#f26c6c" stroke-width="0.42"/>
<circle cx="384.64" cy="296.83" r="0.55" fill="none" stroke="#f26c6c" stroke-width="0.42"/>
<circle cx="387.28" cy="296.86" r="0.55" fill="none" stroke="#f26c6c" stroke-width="0.42"/>
<circle cx="391.31" cy="297.31" r="0.55" fill="none" stroke="#f26c6c" stroke-width="0.42"/>
<circle cx="393.70" cy="297.05" r="0.55" fill="none" stroke="#f26c6c" stroke-width="0.42"/>
<circle cx="396.15" cy="297.06" r="0.55" fill="none" stroke="#f26c6c" stroke-width="0.42"/>
<circle cx="398.55" cy="296.93" r="0.55" fill="none" stroke="#f26c6c" stroke-width="0.42"/>
<circle cx="379.85" cy="295.09" r="0.55" fill="none" stroke="#f26c6c" stroke-width="0.42"/>
<circle cx="382.32" cy="295.65" r="0.55" fill="none" stroke="#f26c6c" stroke-width="0.42"/>
<circle cx="384.82" cy="295.78" r="0.55" fill="none" stroke="#f26c6c" stroke-width="0.42"/>
<circle cx="386.71" cy="295.11" r="0.55" fill="none" stroke="#f26c6c" stroke-width="0.42"/>
<circle cx="389.34" cy="295.60" r="0.55" fill="none" stroke="#f26c6c" stroke-width="0.42"/>
<circle cx="391.88" cy="295.00" r="0.55" fill="none" stroke="#f26c6c" stroke-width="0.42"/>
<circle cx="396.43" cy="295.03" r="0.55" fill="none" stroke="#f26c6c" stroke-width="0.42"/>
<circle cx="384.51" cy="294.08" r="0.55" fill="none" stroke="#f26c6c" stroke-width="0.42"/>
<circle cx="386.75" cy="293.78" r="0.55" fill="none" stroke="#f26c6c" stroke-width="0.42"/>
<circle cx="389.28" cy="293.42" r="0.55" fill="none" stroke="#f26c6c" stroke-width="0.42"/>
<circle cx="391.65" cy="293.66" r="0.55" fill="none" stroke="#f26c6c" stroke-width="0.42"/>
<circle cx="393.86" cy="293.88" r="0.55" fill="none" stroke="#f26c6c" stroke-width="0.42"/>
<circle cx="396.18" cy="293.62" r="0.55" fill="none" stroke="#f26c6c" stroke-width="0.42"/>
<circle cx="398.34" cy="293.46" r="0.55" fill="none" stroke="#f26c6c" stroke-width="0.42"/>
<circle cx="379.86" cy="292.18" r="0.55" fill="none" stroke="#f26c6c" stroke-width="0.42"/>
<circle cx="382.47" cy="291.62" r="0.55" fill="none" stroke="#f26c6c" stroke-width="0.42"/>
<circle cx="384.66" cy="291.67" r="0.55" fill="none" stroke="#f26c6c" stroke-width="0.42"/>
<circle cx="391.72" cy="291.76" r="0.55" fill="none" stroke="#f26c6c" stroke-width="0.42"/>
<circle cx="393.92" cy="292.20" r="0.55" fill="none" stroke="#f26c6c" stroke-width="0.42"/>
<circle cx="395.90" cy="292.09" r="0.55" fill="none" stroke="#f26c6c" stroke-width="0.42"/>
<circle cx="380.36" cy="290.69" r="0.55" fill="none" stroke="#f26c6c" stroke-width="0.42"/>
<circle cx="382.28" cy="290.34" r="0.55" fill="none" stroke="#f26c6c" stroke-width="0.42"/>
<circle cx="387.26" cy="290.58" r="0.55" fill="none" stroke="#f26c6c" stroke-width="0.42"/>
<circle cx="389.38" cy="290.67" r="0.55" fill="none" stroke="#f26c6c" stroke-width="0.42"/>
<circle cx="394.11" cy="290.06" r="0.55" fill="none" stroke="#f26c6c" stroke-width="0.42"/>
<circle cx="396.48" cy="290.58" r="0.55" fill="none" stroke="#f26c6c" stroke-width="0.42"/>
<circle cx="398.37" cy="290.39" r="0.55" fill="none" stroke="#f26c6c" stroke-width="0.42"/>
<circle cx="382.66" cy="288.78" r="0.55" fill="none" stroke="#f26c6c" stroke-width="0.42"/>
<circle cx="386.92" cy="288.54" r="0.55" fill="none" stroke="#f26c6c" stroke-width="0.42"/>
<circle cx="389.32" cy="288.87" r="0.55" fill="none" stroke="#f26c6c" stroke-width="0.42"/>
<circle cx="391.34" cy="288.79" r="0.55" fill="none" stroke="#f26c6c" stroke-width="0.42"/>
<circle cx="393.85" cy="288.29" r="0.55" fill="none" stroke="#f26c6c" stroke-width="0.42"/>
<circle cx="398.37" cy="288.84" r="0.55" fill="none" stroke="#f26c6c" stroke-width="0.42"/>
<circle cx="379.97" cy="287.21" r="0.55" fill="none" stroke="#f26c6c" stroke-width="0.42"/>
<circle cx="382.32" cy="287.27" r="0.55" fill="none" stroke="#f26c6c" stroke-width="0.42"/>
<circle cx="386.85" cy="287.15" r="0.55" fill="none" stroke="#f26c6c" stroke-width="0.42"/>
<circle cx="389.50" cy="286.79" r="0.55" fill="none" stroke="#f26c6c" stroke-width="0.42"/>
<circle cx="396.29" cy="287.12" r="0.55" fill="none" stroke="#f26c6c" stroke-width="0.42"/>
<circle cx="384.77" cy="285.35" r="0.55" fill="none" stroke="#f26c6c" stroke-width="0.42"/>
<circle cx="386.98" cy="285.49" r="0.55" fill="none" stroke="#f26c6c" stroke-width="0.42"/>
<circle cx="393.96" cy="285.49" r="0.55" fill="none" stroke="#f26c6c" stroke-width="0.42"/>
<circle cx="396.09" cy="284.83" r="0.55" fill="none" stroke="#f26c6c" stroke-width="0.42"/>
<circle cx="382.32" cy="283.76" r="0.55" fill="none" stroke="#f26c6c" stroke-width="0.42"/>
<circle cx="387.06" cy="283.36" r="0.55" fill="none" stroke="#f26c6c" stroke-width="0.42"/>
<circle cx="389.21" cy="283.36" r="0.55" fill="none" stroke="#f26c6c" stroke-width="0.42"/>
<circle cx="391.37" cy="283.68" r="0.55" fill="none" stroke="#f26c6c" stroke-width="0.42"/>
<circle cx="393.70" cy="283.30" r="0.55" fill="none" stroke="#f26c6c" stroke-width="0.42"/>
<circle cx="396.16" cy="283.73" r="0.55" fill="none" stroke="#f26c6c" stroke-width="0.42"/>
<circle cx="398.33" cy="283.33" r="0.55" fill="none" stroke="#f26c6c" stroke-width="0.42"/>
<circle cx="382.55" cy="281.49" r="0.55" fill="none" stroke="#f26c6c" stroke-width="0.42"/>
<circle cx="384.73" cy="281.99" r="0.55" fill="none" stroke="#f26c6c" stroke-width="0.42"/>
<circle cx="389.20" cy="282.11" r="0.55" fill="none" stroke="#f26c6c" stroke-width="0.42"/>
<circle cx="391.59" cy="281.85" r="0.55" fill="none" stroke="#f26c6c" stroke-width="0.42"/>
<circle cx="384.60" cy="280.03" r="0.55" fill="none" stroke="#f26c6c" stroke-width="0.42"/>
<circle cx="387.16" cy="279.75" r="0.55" fill="none" stroke="#f26c6c" stroke-width="0.42"/>
<circle cx="391.67" cy="280.03" r="0.55" fill="none" stroke="#f26c6c" stroke-width="0.42"/>
<circle cx="396.44" cy="280.44" r="0.55" fill="none" stroke="#f26c6c" stroke-width="0.42"/>
<circle cx="382.69" cy="278.39" r="0.55" fill="none" stroke="#f26c6c" stroke-width="0.42"/>
<circle cx="384.91" cy="278.42" r="0.55" fill="none" stroke="#f26c6c" stroke-width="0.42"/>
<circle cx="387.11" cy="278.38" r="0.55" fill="none" stroke="#f26c6c" stroke-width="0.42"/>
<circle cx="389.50" cy="278.40" r="0.55" fill="none" stroke="#f26c6c" stroke-width="0.42"/>
<circle cx="394.16" cy="278.23" r="0.55" fill="none" stroke="#f26c6c" stroke-width="0.42"/>
<circle cx="396.22" cy="278.61" r="0.55" fill="none" stroke="#f26c6c" stroke-width="0.42"/>
<circle cx="384.47" cy="276.62" r="0.55" fill="none" stroke="#f26c6c" stroke-width="0.42"/>
<circle cx="386.92" cy="277.06" r="0.55" fill="none" stroke="#f26c6c" stroke-width="0.42"/>
<circle cx="389.42" cy="276.80" r="0.55" fill="none" stroke="#f26c6c" stroke-width="0.42"/>
<circle cx="391.71" cy="276.36" r="0.55" fill="none" stroke="#f26c6c" stroke-width="0.42"/>
<circle cx="393.95" cy="276.40" r="0.55" fill="none" stroke="#f26c6c" stroke-width="0.42"/>
<circle cx="382.48" cy="275.37" r="0.55" fill="none" stroke="#f26c6c" stroke-width="0.42"/>
<circle cx="385.00" cy="274.63" r="0.55" fill="none" stroke="#f26c6c" stroke-width="0.42"/>
<circle cx="387.09" cy="275.39" r="0.55" fill="none" stroke="#f26c6c" stroke-width="0.42"/>
<circle cx="389.57" cy="275.12" r="0.55" fill="none" stroke="#f26c6c" stroke-width="0.42"/>
<circle cx="391.40" cy="274.79" r="0.55" fill="none" stroke="#f26c6c" stroke-width="0.42"/>
<circle cx="393.81" cy="274.90" r="0.55" fill="none" stroke="#f26c6c" stroke-width="0.42"/>
<circle cx="384.78" cy="272.93" r="0.55" fill="none" stroke="#f26c6c" stroke-width="0.42"/>
<circle cx="387.13" cy="273.61" r="0.55" fill="none" stroke="#f26c6c" stroke-width="0.42"/>
<circle cx="389.02" cy="273.09" r="0.55" fill="none" stroke="#f26c6c" stroke-width="0.42"/>
<circle cx="391.52" cy="273.35" r="0.55" fill="none" stroke="#f26c6c" stroke-width="0.42"/>
<circle cx="393.99" cy="273.53" r="0.55" fill="none" stroke="#f26c6c" stroke-width="0.42"/>
<circle cx="387.05" cy="271.41" r="0.55" fill="none" stroke="#f26c6c" stroke-width="0.42"/>
<circle cx="391.82" cy="271.56" r="0.55" fill="none" stroke="#f26c6c" stroke-width="0.42"/>
<circle cx="393.90" cy="271.72" r="0.55" fill="none" stroke="#f26c6c" stroke-width="0.42"/>
<circle cx="387.05" cy="270.09" r="0.55" fill="none" stroke="#f26c6c" stroke-width="0.42"/>
<circle cx="389.36" cy="269.87" r="0.55" fill="none" stroke="#f26c6c" stroke-width="0.42"/>
<circle cx="391.53" cy="269.94" r="0.55" fill="none" stroke="#f26c6c" stroke-width="0.42"/>
<circle cx="389.09" cy="268.46" r="0.55" fill="none" stroke="#f26c6c" stroke-width="0.42"/>
<circle cx="391.78" cy="268.41" r="0.55" fill="none" stroke="#f26c6c" stroke-width="0.42"/>
<circle cx="387.08" cy="266.30" r="0.55" fill="none" stroke="#f26c6c" stroke-width="0.42"/>
<circle cx="391.37" cy="266.13" r="0.55" fill="none" stroke="#f26c6c" stroke-width="0.42"/>
<circle cx="389.13" cy="264.65" r="0.55" fill="none" stroke="#f26c6c" stroke-width="0.42"/>
<circle cx="389.44" cy="261.46" r="0.55" fill="none" stroke="#f26c6c" stroke-width="0.42"/>
<circle cx="389.30" cy="207.90" r="0.55" fill="none" stroke="#f26c6c" stroke-width="0.42"/>
<circle cx="389.30" cy="233.00" r="0.55" fill="none" stroke="#f26c6c" stroke-width="0.42"/>
<circle cx="389.30" cy="242.60" r="0.55" fill="none" stroke="#f26c6c" stroke-width="0.42"/>
<circle cx="389.30" cy="244.60" r="0.55" fill="none" stroke="#f26c6c" stroke-width="0.42"/>
<circle cx="389.30" cy="254.10" r="0.55" fill="none" stroke="#f26c6c" stroke-width="0.42"/>
<circle cx="389.30" cy="256.00" r="0.55" fill="none" stroke="#f26c6c" stroke-width="0.42"/>
<circle cx="389.30" cy="258.30" r="0.55" fill="none" stroke="#f26c6c" stroke-width="0.42"/>
<circle cx="387.80" cy="247.70" r="0.55" fill="none" stroke="#f26c6c" stroke-width="0.42"/>
<circle cx="389.30" cy="247.70" r="0.55" fill="none" stroke="#f26c6c" stroke-width="0.42"/>
<circle cx="390.80" cy="247.70" r="0.55" fill="none" stroke="#f26c6c" stroke-width="0.42"/>
<line x1="293.40" y1="289.50" x2="340.90" y2="289.50" stroke="#6e76f2" stroke-width="1.25"/>
<line x1="365.45" y1="288.50" x2="412.95" y2="288.50" stroke="#f4464a" stroke-width="1.25"/>
<path d="M269.70 181.90 V315.65 H437.80" fill="none" stroke="#050505" stroke-width="1.3"/>
<line x1="266.10" y1="315.65" x2="269.70" y2="315.65" stroke="#050505" stroke-width="1.1"/>
<text x="265.10" y="318.25" font-size="6.4" text-anchor="end" font-weight="bold" fill="#1a1a1a" stroke="#1a1a1a" stroke-width="0.18">0</text>
<line x1="266.10" y1="271.07" x2="269.70" y2="271.07" stroke="#050505" stroke-width="1.1"/>
<text x="265.10" y="273.67" font-size="6.4" text-anchor="end" font-weight="bold" fill="#1a1a1a" stroke="#1a1a1a" stroke-width="0.18">20</text>
<line x1="266.10" y1="226.48" x2="269.70" y2="226.48" stroke="#050505" stroke-width="1.1"/>
<text x="265.10" y="229.08" font-size="6.4" text-anchor="end" font-weight="bold" fill="#1a1a1a" stroke="#1a1a1a" stroke-width="0.18">40</text>
<line x1="266.10" y1="181.90" x2="269.70" y2="181.90" stroke="#050505" stroke-width="1.1"/>
<text x="265.10" y="184.50" font-size="6.4" text-anchor="end" font-weight="bold" fill="#1a1a1a" stroke="#1a1a1a" stroke-width="0.18">60</text>
<line x1="317.60" y1="315.65" x2="317.60" y2="319.65" stroke="#050505" stroke-width="1.1"/>
<text x="317.60" y="326.45" font-size="6.3" text-anchor="middle" font-weight="bold" fill="#1a1a1a" stroke="#1a1a1a" stroke-width="0.18">DRA</text>
<line x1="389.50" y1="315.65" x2="389.50" y2="319.65" stroke="#050505" stroke-width="1.1"/>
<text x="389.50" y="326.45" font-size="6.3" text-anchor="middle" font-weight="bold" fill="#1a1a1a" stroke="#1a1a1a" stroke-width="0.18">TRA</text>
<text x="253.40" y="248.65" font-size="7.0" text-anchor="middle" font-weight="bold" fill="#1a1a1a" stroke="#1a1a1a" stroke-width="0.05" transform="rotate(-90 253.40 248.65)">Fluoroscopy time,min</text>
<text x="354.15" y="194.40" font-size="6.8" text-anchor="middle" font-weight="bold" fill="#1a1a1a" stroke="#1a1a1a" stroke-width="0.18">P=0.388</text>
<rect x="516.50" y="181.90" width="167.20" height="133.75" fill="#c9ddf6"/>
<rect x="541.40" y="294.65" width="46.10" height="21.00" fill="#529ff7" stroke="#111" stroke-width="1.4"/>
<rect x="612.90" y="223.00" width="46.40" height="92.65" fill="#b955d6" stroke="#111" stroke-width="1.4"/>
<text x="560.75" y="291.13" font-size="6.5" text-anchor="middle" font-weight="bold" fill="#1a1a1a" stroke="#1a1a1a" stroke-width="0.18">0.8%</text>
<text x="635.80" y="218.93" font-size="6.5" text-anchor="middle" font-weight="bold" fill="#1a1a1a" stroke="#1a1a1a" stroke-width="0.18">3.5%</text>
<path d="M516.50 181.90 V315.65 H684.00" fill="none" stroke="#050505" stroke-width="1.3"/>
<line x1="512.90" y1="315.65" x2="516.50" y2="315.65" stroke="#050505" stroke-width="1.1"/>
<text x="511.90" y="318.25" font-size="6.4" text-anchor="end" font-weight="bold" fill="#1a1a1a" stroke="#1a1a1a" stroke-width="0.18">0</text>
<line x1="512.90" y1="288.90" x2="516.50" y2="288.90" stroke="#050505" stroke-width="1.1"/>
<text x="511.90" y="291.50" font-size="6.4" text-anchor="end" font-weight="bold" fill="#1a1a1a" stroke="#1a1a1a" stroke-width="0.18">1</text>
<line x1="512.90" y1="262.15" x2="516.50" y2="262.15" stroke="#050505" stroke-width="1.1"/>
<text x="511.90" y="264.75" font-size="6.4" text-anchor="end" font-weight="bold" fill="#1a1a1a" stroke="#1a1a1a" stroke-width="0.18">2</text>
<line x1="512.90" y1="235.40" x2="516.50" y2="235.40" stroke="#050505" stroke-width="1.1"/>
<text x="511.90" y="238.00" font-size="6.4" text-anchor="end" font-weight="bold" fill="#1a1a1a" stroke="#1a1a1a" stroke-width="0.18">3</text>
<line x1="512.90" y1="208.65" x2="516.50" y2="208.65" stroke="#050505" stroke-width="1.1"/>
<text x="511.90" y="211.25" font-size="6.4" text-anchor="end" font-weight="bold" fill="#1a1a1a" stroke="#1a1a1a" stroke-width="0.18">4</text>
<line x1="512.90" y1="181.90" x2="516.50" y2="181.90" stroke="#050505" stroke-width="1.1"/>
<text x="511.90" y="184.50" font-size="6.4" text-anchor="end" font-weight="bold" fill="#1a1a1a" stroke="#1a1a1a" stroke-width="0.18">5</text>
<line x1="564.30" y1="315.65" x2="564.30" y2="319.65" stroke="#050505" stroke-width="1.1"/>
<text x="564.30" y="326.45" font-size="6.3" text-anchor="middle" font-weight="bold" fill="#1a1a1a" stroke="#1a1a1a" stroke-width="0.18">DRA</text>
<line x1="636.00" y1="315.65" x2="636.00" y2="319.65" stroke="#050505" stroke-width="1.1"/>
<text x="636.00" y="326.45" font-size="6.3" text-anchor="middle" font-weight="bold" fill="#1a1a1a" stroke="#1a1a1a" stroke-width="0.18">TRA</text>
<text x="503.90" y="248.75" font-size="7.0" text-anchor="middle" font-weight="bold" fill="#1a1a1a" stroke="#1a1a1a" stroke-width="0.05" transform="rotate(-90 503.90 248.75)">EASY&gt;II hematoma,%</text>
<text x="600.20" y="195.15" font-size="6.8" text-anchor="middle" font-weight="bold" fill="#1a1a1a" stroke="#1a1a1a" stroke-width="0.18">P=0.033</text>
</svg>
</body></html>
